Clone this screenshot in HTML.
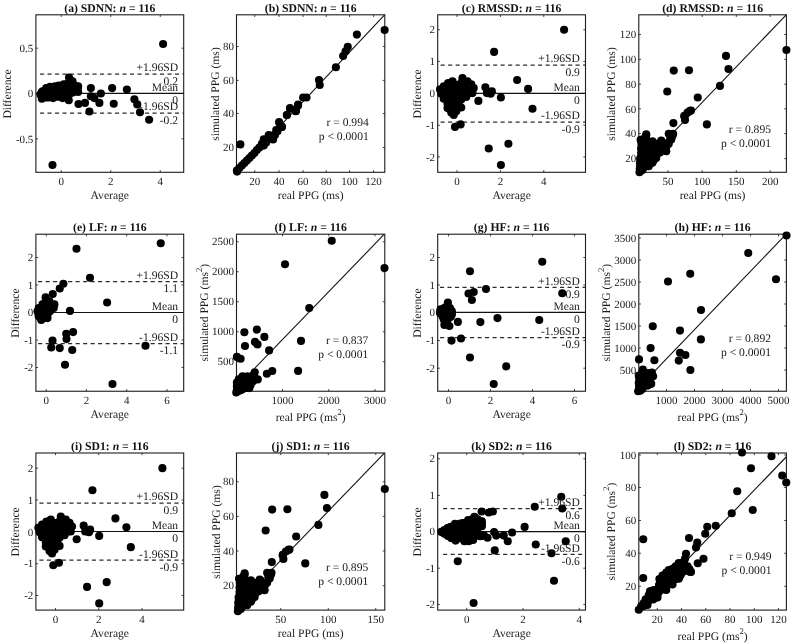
<!DOCTYPE html>
<html><head><meta charset="utf-8"><title>Figure</title>
<style>
html,body{margin:0;padding:0;background:#fff;}
body{width:792px;height:644px;overflow:hidden;}
svg{display:block;will-change:transform;text-rendering:geometricPrecision;font-family:"Liberation Serif",serif;}
</style></head><body>
<svg width="792" height="644" viewBox="0 0 792 644">
<rect width="792" height="644" fill="#fff"/>
<g id="p_a">
<path d="M61.25 172.3v-2.2 M61.25 14.8v2.2 M110.75 172.3v-2.2 M110.75 14.8v2.2 M160.25 172.3v-2.2 M160.25 14.8v2.2 M35.9 48.2h2.2 M183.7 48.2h-2.2 M35.9 93.5h2.2 M183.7 93.5h-2.2 M35.9 138.8h2.2 M183.7 138.8h-2.2" stroke="#1c1c1c" stroke-width="0.8" fill="none"/>
<path d="M35.9 93.4H183.7" stroke="#111" stroke-width="1.1"/>
<path d="M40 74H183.7 M40 113H183.7" stroke="#2c2c2c" stroke-width="1.25" stroke-dasharray="4.1 3.4" fill="none"/>
<rect x="35.9" y="14.8" width="147.8" height="157.5" fill="none" stroke="#1c1c1c" stroke-width="1.1"/>
<g fill="#000"><circle cx="69" cy="77.5" r="4.05"/><circle cx="72.5" cy="81.25" r="4.05"/><circle cx="78.12" cy="86.25" r="4.05"/><circle cx="78.12" cy="91.88" r="4.05"/><circle cx="90.88" cy="88.12" r="4.05"/><circle cx="112.12" cy="88.12" r="4.05"/><circle cx="126.88" cy="89.62" r="4.05"/><circle cx="100.88" cy="93.5" r="4.05"/><circle cx="90.88" cy="96.25" r="4.05"/><circle cx="94.38" cy="98.12" r="4.05"/><circle cx="99.38" cy="102.88" r="4.05"/><circle cx="113.75" cy="103.75" r="4.05"/><circle cx="78.5" cy="104" r="4.05"/><circle cx="85" cy="102.88" r="4.05"/><circle cx="89.38" cy="111.5" r="4.05"/><circle cx="68.75" cy="100.25" r="4.05"/><circle cx="42.5" cy="91.25" r="4.05"/><circle cx="42.5" cy="97.5" r="4.05"/><circle cx="46.25" cy="88.12" r="4.05"/><circle cx="46.25" cy="97.5" r="4.05"/><circle cx="50" cy="86.88" r="4.05"/><circle cx="53.12" cy="98.12" r="4.05"/><circle cx="55" cy="86.25" r="4.05"/><circle cx="58.75" cy="85.62" r="4.05"/><circle cx="62.5" cy="98.12" r="4.05"/><circle cx="63.75" cy="84.38" r="4.05"/><circle cx="67.5" cy="83.75" r="4.05"/><circle cx="66.25" cy="96.25" r="4.05"/><circle cx="71.25" cy="88.75" r="4.05"/><circle cx="43.75" cy="93.75" r="4.05"/><circle cx="48.75" cy="92.5" r="4.05"/><circle cx="53.75" cy="91.88" r="4.05"/><circle cx="58.75" cy="91.25" r="4.05"/><circle cx="63.75" cy="90" r="4.05"/><circle cx="68.75" cy="91.25" r="4.05"/><circle cx="58.75" cy="96.25" r="4.05"/><circle cx="48.75" cy="97.5" r="4.05"/><circle cx="73.12" cy="86.88" r="4.05"/><circle cx="41.88" cy="98.75" r="4.05"/><circle cx="163.1" cy="44" r="4.05"/><circle cx="134.4" cy="99.2" r="4.05"/><circle cx="137.25" cy="104.4" r="4.05"/><circle cx="140" cy="112.25" r="4.05"/><circle cx="149.1" cy="119.75" r="4.05"/><circle cx="52.5" cy="165" r="4.05"/><circle cx="70.42" cy="79.99" r="4.05"/><circle cx="69.22" cy="82.06" r="4.05"/><circle cx="71.62" cy="82.06" r="4.05"/><circle cx="70.42" cy="84.14" r="4.05"/><circle cx="72.83" cy="84.14" r="4.05"/><circle cx="64.42" cy="86.22" r="4.05"/><circle cx="66.82" cy="86.22" r="4.05"/><circle cx="69.22" cy="86.22" r="4.05"/><circle cx="71.62" cy="86.22" r="4.05"/><circle cx="74.03" cy="86.22" r="4.05"/><circle cx="76.43" cy="86.22" r="4.05"/><circle cx="51.22" cy="88.3" r="4.05"/><circle cx="53.62" cy="88.3" r="4.05"/><circle cx="56.02" cy="88.3" r="4.05"/><circle cx="58.42" cy="88.3" r="4.05"/><circle cx="60.82" cy="88.3" r="4.05"/><circle cx="63.22" cy="88.3" r="4.05"/><circle cx="65.62" cy="88.3" r="4.05"/><circle cx="68.02" cy="88.3" r="4.05"/><circle cx="70.42" cy="88.3" r="4.05"/><circle cx="72.83" cy="88.3" r="4.05"/><circle cx="75.23" cy="88.3" r="4.05"/><circle cx="77.63" cy="88.3" r="4.05"/><circle cx="45.22" cy="90.38" r="4.05"/><circle cx="47.62" cy="90.38" r="4.05"/><circle cx="50.02" cy="90.38" r="4.05"/><circle cx="52.42" cy="90.38" r="4.05"/><circle cx="54.82" cy="90.38" r="4.05"/><circle cx="57.22" cy="90.38" r="4.05"/><circle cx="59.62" cy="90.38" r="4.05"/><circle cx="62.02" cy="90.38" r="4.05"/><circle cx="64.42" cy="90.38" r="4.05"/><circle cx="66.82" cy="90.38" r="4.05"/><circle cx="69.22" cy="90.38" r="4.05"/><circle cx="71.62" cy="90.38" r="4.05"/><circle cx="74.03" cy="90.38" r="4.05"/><circle cx="76.43" cy="90.38" r="4.05"/><circle cx="41.62" cy="92.46" r="4.05"/><circle cx="44.02" cy="92.46" r="4.05"/><circle cx="46.42" cy="92.46" r="4.05"/><circle cx="48.82" cy="92.46" r="4.05"/><circle cx="51.22" cy="92.46" r="4.05"/><circle cx="53.62" cy="92.46" r="4.05"/><circle cx="56.02" cy="92.46" r="4.05"/><circle cx="58.42" cy="92.46" r="4.05"/><circle cx="60.82" cy="92.46" r="4.05"/><circle cx="63.22" cy="92.46" r="4.05"/><circle cx="65.62" cy="92.46" r="4.05"/><circle cx="68.02" cy="92.46" r="4.05"/><circle cx="70.42" cy="92.46" r="4.05"/><circle cx="72.83" cy="92.46" r="4.05"/><circle cx="40.42" cy="94.53" r="4.05"/><circle cx="42.82" cy="94.53" r="4.05"/><circle cx="45.22" cy="94.53" r="4.05"/><circle cx="47.62" cy="94.53" r="4.05"/><circle cx="50.02" cy="94.53" r="4.05"/><circle cx="52.42" cy="94.53" r="4.05"/><circle cx="54.82" cy="94.53" r="4.05"/><circle cx="57.22" cy="94.53" r="4.05"/><circle cx="59.62" cy="94.53" r="4.05"/><circle cx="62.02" cy="94.53" r="4.05"/><circle cx="64.42" cy="94.53" r="4.05"/><circle cx="66.82" cy="94.53" r="4.05"/><circle cx="69.22" cy="94.53" r="4.05"/><circle cx="41.62" cy="96.61" r="4.05"/><circle cx="44.02" cy="96.61" r="4.05"/><circle cx="56.02" cy="96.61" r="4.05"/><circle cx="58.42" cy="96.61" r="4.05"/><circle cx="60.82" cy="96.61" r="4.05"/><circle cx="63.22" cy="96.61" r="4.05"/><circle cx="65.62" cy="96.61" r="4.05"/><circle cx="68.02" cy="96.61" r="4.05"/></g>
<text transform="translate(178.1,71.4)" font-size="11.6" text-anchor="end" fill="#1a1a1a">+1.96SD</text>
<text transform="translate(178.1,84.6)" font-size="11.6" text-anchor="end" fill="#1a1a1a">0.2</text>
<text transform="translate(178.1,90.7)" font-size="11.6" text-anchor="end" fill="#1a1a1a">Mean</text>
<text transform="translate(178.1,103.6)" font-size="11.6" text-anchor="end" fill="#1a1a1a">0</text>
<text transform="translate(178.1,110.4)" font-size="11.6" text-anchor="end" fill="#1a1a1a">-1.96SD</text>
<text transform="translate(178.1,123.5)" font-size="11.6" text-anchor="end" fill="#1a1a1a">-0.2</text>
<text transform="translate(61.25,185.2)" font-size="11" text-anchor="middle" fill="#1a1a1a">0</text>
<text transform="translate(110.75,185.2)" font-size="11" text-anchor="middle" fill="#1a1a1a">2</text>
<text transform="translate(160.25,185.2)" font-size="11" text-anchor="middle" fill="#1a1a1a">4</text>
<text transform="translate(33.3,51.9)" font-size="11" text-anchor="end" fill="#1a1a1a">0.5</text>
<text transform="translate(33.3,97.2)" font-size="11" text-anchor="end" fill="#1a1a1a">0</text>
<text transform="translate(33.3,142.5)" font-size="11" text-anchor="end" fill="#1a1a1a">-0.5</text>
<text transform="translate(109.8,198.7)" font-size="11.6" text-anchor="middle" fill="#1a1a1a">Average</text>
<text transform="translate(11.1,93.95) rotate(-90)" font-size="11.6" text-anchor="middle" fill="#1a1a1a">Difference</text>
<text transform="translate(109.8,11.5) scale(1,1)" font-size="11.7" font-weight="bold" text-anchor="middle" fill="#111">(a) SDNN: <tspan font-style="italic">n</tspan> = 116</text>
</g>
<g id="p_b">
<path d="M254.75 172.3v-2.2 M254.75 14.8v2.2 M279 172.3v-2.2 M279 14.8v2.2 M303.1 172.3v-2.2 M303.1 14.8v2.2 M326.25 172.3v-2.2 M326.25 14.8v2.2 M349.6 172.3v-2.2 M349.6 14.8v2.2 M373.6 172.3v-2.2 M373.6 14.8v2.2 M236.5 147.5h2.2 M384.8 147.5h-2.2 M236.5 113.5h2.2 M384.8 113.5h-2.2 M236.5 80.4h2.2 M384.8 80.4h-2.2 M236.5 46.5h2.2 M384.8 46.5h-2.2" stroke="#1c1c1c" stroke-width="0.8" fill="none"/>
<path d="M236.5 172.3L384.6 14.9" stroke="#111" stroke-width="1.1"/>
<rect x="236.5" y="14.8" width="148.3" height="157.5" fill="none" stroke="#1c1c1c" stroke-width="1.1"/>
<g fill="#000"><circle cx="236.88" cy="170.62" r="4.05"/><circle cx="239.38" cy="168.12" r="4.05"/><circle cx="241.88" cy="165.62" r="4.05"/><circle cx="244.38" cy="163.12" r="4.05"/><circle cx="246.88" cy="160.62" r="4.05"/><circle cx="249.38" cy="158.12" r="4.05"/><circle cx="251.88" cy="155.62" r="4.05"/><circle cx="254.38" cy="153.12" r="4.05"/><circle cx="256.88" cy="150" r="4.05"/><circle cx="259.38" cy="147.5" r="4.05"/><circle cx="261.88" cy="143.75" r="4.05"/><circle cx="263.75" cy="145.62" r="4.05"/><circle cx="266.25" cy="142.5" r="4.05"/><circle cx="268.75" cy="136.25" r="4.05"/><circle cx="271.25" cy="138.75" r="4.05"/><circle cx="273.12" cy="139.38" r="4.05"/><circle cx="275" cy="135" r="4.05"/><circle cx="277.5" cy="131.25" r="4.05"/><circle cx="279.38" cy="123.12" r="4.05"/><circle cx="281.88" cy="126.88" r="4.05"/><circle cx="286.88" cy="115" r="4.05"/><circle cx="290" cy="108.75" r="4.05"/><circle cx="295.62" cy="111.25" r="4.05"/><circle cx="298.12" cy="105.62" r="4.05"/><circle cx="240.38" cy="144.38" r="4.05"/><circle cx="384.62" cy="30" r="4.05"/><circle cx="356.88" cy="34.62" r="4.05"/><circle cx="347.75" cy="46.88" r="4.05"/><circle cx="345.62" cy="51.25" r="4.05"/><circle cx="343.12" cy="56" r="4.05"/><circle cx="335.88" cy="67.25" r="4.05"/><circle cx="319" cy="80" r="4.05"/><circle cx="319.75" cy="85" r="4.05"/><circle cx="303.12" cy="97.5" r="4.05"/><circle cx="306.5" cy="97.5" r="4.05"/><circle cx="298.12" cy="104.62" r="4.05"/><circle cx="290" cy="108.12" r="4.05"/><circle cx="296" cy="110.88" r="4.05"/><circle cx="286.88" cy="115" r="4.05"/><circle cx="279.12" cy="122.12" r="4.05"/><circle cx="281.88" cy="126.88" r="4.05"/><circle cx="276.25" cy="130" r="4.05"/><circle cx="268.75" cy="135" r="4.05"/><circle cx="273.75" cy="135" r="4.05"/><circle cx="263.75" cy="139.38" r="4.05"/><circle cx="237.1" cy="171.6" r="4.05"/></g>
<text transform="translate(368.75,126.45)" font-size="11.6" text-anchor="end" fill="#1a1a1a">r = 0.994</text>
<text transform="translate(368.75,140.2)" font-size="11.6" text-anchor="end" fill="#1a1a1a">p &lt; 0.0001</text>
<text transform="translate(254.75,185.2)" font-size="11" text-anchor="middle" fill="#1a1a1a">20</text>
<text transform="translate(279,185.2)" font-size="11" text-anchor="middle" fill="#1a1a1a">40</text>
<text transform="translate(303.1,185.2)" font-size="11" text-anchor="middle" fill="#1a1a1a">60</text>
<text transform="translate(326.25,185.2)" font-size="11" text-anchor="middle" fill="#1a1a1a">80</text>
<text transform="translate(349.6,185.2)" font-size="11" text-anchor="middle" fill="#1a1a1a">100</text>
<text transform="translate(373.6,185.2)" font-size="11" text-anchor="middle" fill="#1a1a1a">120</text>
<text transform="translate(233.9,151.2)" font-size="11" text-anchor="end" fill="#1a1a1a">20</text>
<text transform="translate(233.9,117.2)" font-size="11" text-anchor="end" fill="#1a1a1a">40</text>
<text transform="translate(233.9,84.1)" font-size="11" text-anchor="end" fill="#1a1a1a">60</text>
<text transform="translate(233.9,50.2)" font-size="11" text-anchor="end" fill="#1a1a1a">80</text>
<text transform="translate(310.65,198.7)" font-size="11.6" text-anchor="middle" fill="#1a1a1a">real PPG (ms)</text>
<text transform="translate(219.1,93.95) rotate(-90)" font-size="11.6" text-anchor="middle" fill="#1a1a1a">simulated PPG (ms)</text>
<text transform="translate(310.65,11.5) scale(1,1)" font-size="11.7" font-weight="bold" text-anchor="middle" fill="#111">(b) SDNN: <tspan font-style="italic">n</tspan> = 116</text>
</g>
<g id="p_c">
<path d="M457 172.3v-2.2 M457 14.8v2.2 M500.4 172.3v-2.2 M500.4 14.8v2.2 M543.75 172.3v-2.2 M543.75 14.8v2.2 M437.7 29.75h2.2 M585.5 29.75h-2.2 M437.7 61.4h2.2 M585.5 61.4h-2.2 M437.7 93.4h2.2 M585.5 93.4h-2.2 M437.7 125.25h2.2 M585.5 125.25h-2.2 M437.7 156.9h2.2 M585.5 156.9h-2.2" stroke="#1c1c1c" stroke-width="0.8" fill="none"/>
<path d="M437.7 93.4H585.5" stroke="#111" stroke-width="1.1"/>
<path d="M440.6 65H585.5 M440.6 122H585.5" stroke="#2c2c2c" stroke-width="1.25" stroke-dasharray="4.1 3.4" fill="none"/>
<rect x="437.7" y="14.8" width="147.8" height="157.5" fill="none" stroke="#1c1c1c" stroke-width="1.1"/>
<g fill="#000"><circle cx="494.12" cy="51.88" r="4.05"/><circle cx="517.12" cy="80" r="4.05"/><circle cx="485.38" cy="87.25" r="4.05"/><circle cx="491.88" cy="91.25" r="4.05"/><circle cx="486.88" cy="93.12" r="4.05"/><circle cx="490.62" cy="93.75" r="4.05"/><circle cx="500.88" cy="97.5" r="4.05"/><circle cx="478.38" cy="100.88" r="4.05"/><circle cx="460.62" cy="124.38" r="4.05"/><circle cx="455" cy="126.88" r="4.05"/><circle cx="462.5" cy="78.12" r="4.05"/><circle cx="452.5" cy="81.25" r="4.05"/><circle cx="467.5" cy="81.25" r="4.05"/><circle cx="448.12" cy="83.12" r="4.05"/><circle cx="443.75" cy="86.25" r="4.05"/><circle cx="471.25" cy="84.38" r="4.05"/><circle cx="440" cy="89.38" r="4.05"/><circle cx="473.75" cy="88.12" r="4.05"/><circle cx="457.5" cy="85" r="4.05"/><circle cx="462.5" cy="87.5" r="4.05"/><circle cx="452.5" cy="90" r="4.05"/><circle cx="445" cy="92.5" r="4.05"/><circle cx="467.5" cy="91.25" r="4.05"/><circle cx="472.5" cy="93.12" r="4.05"/><circle cx="441.25" cy="93.75" r="4.05"/><circle cx="443.75" cy="98.75" r="4.05"/><circle cx="466.25" cy="96.88" r="4.05"/><circle cx="461.25" cy="99.38" r="4.05"/><circle cx="450" cy="97.5" r="4.05"/><circle cx="456.25" cy="95" r="4.05"/><circle cx="447.5" cy="103.75" r="4.05"/><circle cx="455" cy="103.75" r="4.05"/><circle cx="447.5" cy="108.12" r="4.05"/><circle cx="461.25" cy="107.5" r="4.05"/><circle cx="451.25" cy="112.5" r="4.05"/><circle cx="456.25" cy="111.25" r="4.05"/><circle cx="453.75" cy="115" r="4.05"/><circle cx="458.75" cy="102.5" r="4.05"/><circle cx="564.1" cy="29.75" r="4.05"/><circle cx="528.1" cy="88.9" r="4.05"/><circle cx="532.5" cy="108.75" r="4.05"/><circle cx="488.75" cy="148.5" r="4.05"/><circle cx="508.4" cy="143.75" r="4.05"/><circle cx="500.9" cy="165" r="4.05"/><circle cx="462.7" cy="80.61" r="4.05"/><circle cx="451.9" cy="82.69" r="4.05"/><circle cx="461.5" cy="82.69" r="4.05"/><circle cx="463.9" cy="82.69" r="4.05"/><circle cx="466.3" cy="82.69" r="4.05"/><circle cx="448.3" cy="84.77" r="4.05"/><circle cx="450.7" cy="84.77" r="4.05"/><circle cx="453.1" cy="84.77" r="4.05"/><circle cx="455.5" cy="84.77" r="4.05"/><circle cx="457.9" cy="84.77" r="4.05"/><circle cx="460.3" cy="84.77" r="4.05"/><circle cx="462.7" cy="84.77" r="4.05"/><circle cx="465.1" cy="84.77" r="4.05"/><circle cx="467.5" cy="84.77" r="4.05"/><circle cx="447.1" cy="86.85" r="4.05"/><circle cx="449.5" cy="86.85" r="4.05"/><circle cx="451.9" cy="86.85" r="4.05"/><circle cx="454.3" cy="86.85" r="4.05"/><circle cx="456.7" cy="86.85" r="4.05"/><circle cx="459.1" cy="86.85" r="4.05"/><circle cx="461.5" cy="86.85" r="4.05"/><circle cx="463.9" cy="86.85" r="4.05"/><circle cx="466.3" cy="86.85" r="4.05"/><circle cx="468.7" cy="86.85" r="4.05"/><circle cx="471.1" cy="86.85" r="4.05"/><circle cx="443.5" cy="88.92" r="4.05"/><circle cx="445.9" cy="88.92" r="4.05"/><circle cx="448.3" cy="88.92" r="4.05"/><circle cx="450.7" cy="88.92" r="4.05"/><circle cx="453.1" cy="88.92" r="4.05"/><circle cx="455.5" cy="88.92" r="4.05"/><circle cx="457.9" cy="88.92" r="4.05"/><circle cx="460.3" cy="88.92" r="4.05"/><circle cx="462.7" cy="88.92" r="4.05"/><circle cx="465.1" cy="88.92" r="4.05"/><circle cx="467.5" cy="88.92" r="4.05"/><circle cx="469.9" cy="88.92" r="4.05"/><circle cx="472.3" cy="88.92" r="4.05"/><circle cx="442.3" cy="91" r="4.05"/><circle cx="444.7" cy="91" r="4.05"/><circle cx="447.1" cy="91" r="4.05"/><circle cx="449.5" cy="91" r="4.05"/><circle cx="451.9" cy="91" r="4.05"/><circle cx="454.3" cy="91" r="4.05"/><circle cx="456.7" cy="91" r="4.05"/><circle cx="459.1" cy="91" r="4.05"/><circle cx="461.5" cy="91" r="4.05"/><circle cx="463.9" cy="91" r="4.05"/><circle cx="466.3" cy="91" r="4.05"/><circle cx="468.7" cy="91" r="4.05"/><circle cx="471.1" cy="91" r="4.05"/><circle cx="443.5" cy="93.08" r="4.05"/><circle cx="445.9" cy="93.08" r="4.05"/><circle cx="448.3" cy="93.08" r="4.05"/><circle cx="450.7" cy="93.08" r="4.05"/><circle cx="453.1" cy="93.08" r="4.05"/><circle cx="455.5" cy="93.08" r="4.05"/><circle cx="457.9" cy="93.08" r="4.05"/><circle cx="460.3" cy="93.08" r="4.05"/><circle cx="462.7" cy="93.08" r="4.05"/><circle cx="465.1" cy="93.08" r="4.05"/><circle cx="467.5" cy="93.08" r="4.05"/><circle cx="469.9" cy="93.08" r="4.05"/><circle cx="444.7" cy="95.16" r="4.05"/><circle cx="447.1" cy="95.16" r="4.05"/><circle cx="449.5" cy="95.16" r="4.05"/><circle cx="451.9" cy="95.16" r="4.05"/><circle cx="454.3" cy="95.16" r="4.05"/><circle cx="456.7" cy="95.16" r="4.05"/><circle cx="459.1" cy="95.16" r="4.05"/><circle cx="461.5" cy="95.16" r="4.05"/><circle cx="463.9" cy="95.16" r="4.05"/><circle cx="466.3" cy="95.16" r="4.05"/><circle cx="445.9" cy="97.24" r="4.05"/><circle cx="448.3" cy="97.24" r="4.05"/><circle cx="450.7" cy="97.24" r="4.05"/><circle cx="453.1" cy="97.24" r="4.05"/><circle cx="455.5" cy="97.24" r="4.05"/><circle cx="457.9" cy="97.24" r="4.05"/><circle cx="460.3" cy="97.24" r="4.05"/><circle cx="447.1" cy="99.32" r="4.05"/><circle cx="449.5" cy="99.32" r="4.05"/><circle cx="451.9" cy="99.32" r="4.05"/><circle cx="454.3" cy="99.32" r="4.05"/><circle cx="456.7" cy="99.32" r="4.05"/><circle cx="459.1" cy="99.32" r="4.05"/><circle cx="450.7" cy="101.39" r="4.05"/><circle cx="453.1" cy="101.39" r="4.05"/><circle cx="455.5" cy="101.39" r="4.05"/><circle cx="457.9" cy="101.39" r="4.05"/><circle cx="451.9" cy="103.47" r="4.05"/><circle cx="454.3" cy="103.47" r="4.05"/><circle cx="456.7" cy="103.47" r="4.05"/><circle cx="450.7" cy="105.55" r="4.05"/><circle cx="453.1" cy="105.55" r="4.05"/><circle cx="455.5" cy="105.55" r="4.05"/><circle cx="457.9" cy="105.55" r="4.05"/><circle cx="449.5" cy="107.63" r="4.05"/><circle cx="451.9" cy="107.63" r="4.05"/><circle cx="454.3" cy="107.63" r="4.05"/><circle cx="456.7" cy="107.63" r="4.05"/><circle cx="450.7" cy="109.71" r="4.05"/><circle cx="453.1" cy="109.71" r="4.05"/><circle cx="455.5" cy="109.71" r="4.05"/><circle cx="454.3" cy="111.79" r="4.05"/></g>
<text transform="translate(579.9,62.4)" font-size="11.6" text-anchor="end" fill="#1a1a1a">+1.96SD</text>
<text transform="translate(579.9,75.6)" font-size="11.6" text-anchor="end" fill="#1a1a1a">0.9</text>
<text transform="translate(579.9,90.7)" font-size="11.6" text-anchor="end" fill="#1a1a1a">Mean</text>
<text transform="translate(579.9,103.6)" font-size="11.6" text-anchor="end" fill="#1a1a1a">0</text>
<text transform="translate(579.9,119.4)" font-size="11.6" text-anchor="end" fill="#1a1a1a">-1.96SD</text>
<text transform="translate(579.9,132.5)" font-size="11.6" text-anchor="end" fill="#1a1a1a">-0.9</text>
<text transform="translate(457,185.2)" font-size="11" text-anchor="middle" fill="#1a1a1a">0</text>
<text transform="translate(500.4,185.2)" font-size="11" text-anchor="middle" fill="#1a1a1a">2</text>
<text transform="translate(543.75,185.2)" font-size="11" text-anchor="middle" fill="#1a1a1a">4</text>
<text transform="translate(435.1,33.45)" font-size="11" text-anchor="end" fill="#1a1a1a">2</text>
<text transform="translate(435.1,65.1)" font-size="11" text-anchor="end" fill="#1a1a1a">1</text>
<text transform="translate(435.1,97.1)" font-size="11" text-anchor="end" fill="#1a1a1a">0</text>
<text transform="translate(435.1,128.95)" font-size="11" text-anchor="end" fill="#1a1a1a">-1</text>
<text transform="translate(435.1,160.6)" font-size="11" text-anchor="end" fill="#1a1a1a">-2</text>
<text transform="translate(511.6,198.7)" font-size="11.6" text-anchor="middle" fill="#1a1a1a">Average</text>
<text transform="translate(420.6,93.95) rotate(-90)" font-size="11.6" text-anchor="middle" fill="#1a1a1a">Difference</text>
<text transform="translate(511.6,11.5) scale(1,1)" font-size="11.7" font-weight="bold" text-anchor="middle" fill="#111">(c) RMSSD: <tspan font-style="italic">n</tspan> = 116</text>
</g>
<g id="p_d">
<path d="M667.9 172.3v-2.2 M667.9 14.8v2.2 M702.2 172.3v-2.2 M702.2 14.8v2.2 M736.3 172.3v-2.2 M736.3 14.8v2.2 M770.2 172.3v-2.2 M770.2 14.8v2.2 M638.8 158.6h2.2 M786.4 158.6h-2.2 M638.8 133.6h2.2 M786.4 133.6h-2.2 M638.8 108.8h2.2 M786.4 108.8h-2.2 M638.8 84.2h2.2 M786.4 84.2h-2.2 M638.8 59.4h2.2 M786.4 59.4h-2.2 M638.8 34.5h2.2 M786.4 34.5h-2.2" stroke="#1c1c1c" stroke-width="0.8" fill="none"/>
<path d="M638.8 168.4L786.2 14.9" stroke="#111" stroke-width="1.1"/>
<rect x="638.8" y="14.8" width="147.6" height="157.5" fill="none" stroke="#1c1c1c" stroke-width="1.1"/>
<g fill="#000"><circle cx="691" cy="110.62" r="4.05"/><circle cx="687.5" cy="112.5" r="4.05"/><circle cx="684.38" cy="116.25" r="4.05"/><circle cx="685" cy="120" r="4.05"/><circle cx="673.38" cy="123.12" r="4.05"/><circle cx="706.88" cy="124.38" r="4.05"/><circle cx="668.75" cy="133.75" r="4.05"/><circle cx="673.12" cy="133.75" r="4.05"/><circle cx="646.25" cy="134.38" r="4.05"/><circle cx="640.62" cy="139.75" r="4.05"/><circle cx="671.25" cy="139.38" r="4.05"/><circle cx="652.5" cy="141.25" r="4.05"/><circle cx="661.25" cy="140.62" r="4.05"/><circle cx="668.75" cy="143.75" r="4.05"/><circle cx="665" cy="146.88" r="4.05"/><circle cx="666.25" cy="151.25" r="4.05"/><circle cx="660" cy="152.5" r="4.05"/><circle cx="658.75" cy="145" r="4.05"/><circle cx="651.25" cy="146.25" r="4.05"/><circle cx="645" cy="145" r="4.05"/><circle cx="641.25" cy="148.75" r="4.05"/><circle cx="646.25" cy="151.25" r="4.05"/><circle cx="653.75" cy="153.75" r="4.05"/><circle cx="641.25" cy="153.75" r="4.05"/><circle cx="647.5" cy="156.25" r="4.05"/><circle cx="656.25" cy="158.12" r="4.05"/><circle cx="640.75" cy="158.75" r="4.05"/><circle cx="645" cy="161.25" r="4.05"/><circle cx="652.5" cy="162.5" r="4.05"/><circle cx="640" cy="163.75" r="4.05"/><circle cx="642.5" cy="166.25" r="4.05"/><circle cx="648.75" cy="166.25" r="4.05"/><circle cx="639.75" cy="168.75" r="4.05"/><circle cx="642.5" cy="170" r="4.05"/><circle cx="639.5" cy="172.25" r="4.05"/><circle cx="660" cy="148.75" r="4.05"/><circle cx="650" cy="158.75" r="4.05"/><circle cx="726" cy="55.88" r="4.05"/><circle cx="728.5" cy="69" r="4.05"/><circle cx="720" cy="85.88" r="4.05"/><circle cx="673.75" cy="70.62" r="4.05"/><circle cx="689" cy="70.25" r="4.05"/><circle cx="667.25" cy="91.5" r="4.05"/><circle cx="697.75" cy="97.5" r="4.05"/><circle cx="690" cy="110.88" r="4.05"/><circle cx="684.38" cy="115.88" r="4.05"/><circle cx="786.4" cy="50" r="4.05"/><circle cx="646.17" cy="135.61" r="4.05"/><circle cx="670.17" cy="135.61" r="4.05"/><circle cx="672.57" cy="135.61" r="4.05"/><circle cx="644.97" cy="137.69" r="4.05"/><circle cx="671.37" cy="137.69" r="4.05"/><circle cx="641.38" cy="139.77" r="4.05"/><circle cx="643.77" cy="139.77" r="4.05"/><circle cx="646.17" cy="139.77" r="4.05"/><circle cx="670.17" cy="139.77" r="4.05"/><circle cx="642.57" cy="141.85" r="4.05"/><circle cx="644.97" cy="141.85" r="4.05"/><circle cx="647.37" cy="141.85" r="4.05"/><circle cx="661.77" cy="141.85" r="4.05"/><circle cx="641.38" cy="143.92" r="4.05"/><circle cx="643.77" cy="143.92" r="4.05"/><circle cx="646.17" cy="143.92" r="4.05"/><circle cx="648.57" cy="143.92" r="4.05"/><circle cx="650.97" cy="143.92" r="4.05"/><circle cx="653.37" cy="143.92" r="4.05"/><circle cx="655.77" cy="143.92" r="4.05"/><circle cx="658.17" cy="143.92" r="4.05"/><circle cx="660.57" cy="143.92" r="4.05"/><circle cx="662.97" cy="143.92" r="4.05"/><circle cx="665.37" cy="143.92" r="4.05"/><circle cx="667.77" cy="143.92" r="4.05"/><circle cx="642.57" cy="146" r="4.05"/><circle cx="644.97" cy="146" r="4.05"/><circle cx="647.37" cy="146" r="4.05"/><circle cx="649.77" cy="146" r="4.05"/><circle cx="652.17" cy="146" r="4.05"/><circle cx="654.57" cy="146" r="4.05"/><circle cx="656.97" cy="146" r="4.05"/><circle cx="659.37" cy="146" r="4.05"/><circle cx="661.77" cy="146" r="4.05"/><circle cx="664.17" cy="146" r="4.05"/><circle cx="666.57" cy="146" r="4.05"/><circle cx="641.38" cy="148.08" r="4.05"/><circle cx="643.77" cy="148.08" r="4.05"/><circle cx="646.17" cy="148.08" r="4.05"/><circle cx="648.57" cy="148.08" r="4.05"/><circle cx="650.97" cy="148.08" r="4.05"/><circle cx="653.37" cy="148.08" r="4.05"/><circle cx="655.77" cy="148.08" r="4.05"/><circle cx="658.17" cy="148.08" r="4.05"/><circle cx="660.57" cy="148.08" r="4.05"/><circle cx="662.97" cy="148.08" r="4.05"/><circle cx="665.37" cy="148.08" r="4.05"/><circle cx="642.57" cy="150.16" r="4.05"/><circle cx="644.97" cy="150.16" r="4.05"/><circle cx="647.37" cy="150.16" r="4.05"/><circle cx="649.77" cy="150.16" r="4.05"/><circle cx="652.17" cy="150.16" r="4.05"/><circle cx="654.57" cy="150.16" r="4.05"/><circle cx="656.97" cy="150.16" r="4.05"/><circle cx="659.37" cy="150.16" r="4.05"/><circle cx="661.77" cy="150.16" r="4.05"/><circle cx="664.17" cy="150.16" r="4.05"/><circle cx="641.38" cy="152.24" r="4.05"/><circle cx="643.77" cy="152.24" r="4.05"/><circle cx="646.17" cy="152.24" r="4.05"/><circle cx="648.57" cy="152.24" r="4.05"/><circle cx="650.97" cy="152.24" r="4.05"/><circle cx="653.37" cy="152.24" r="4.05"/><circle cx="655.77" cy="152.24" r="4.05"/><circle cx="658.17" cy="152.24" r="4.05"/><circle cx="642.57" cy="154.32" r="4.05"/><circle cx="644.97" cy="154.32" r="4.05"/><circle cx="647.37" cy="154.32" r="4.05"/><circle cx="649.77" cy="154.32" r="4.05"/><circle cx="652.17" cy="154.32" r="4.05"/><circle cx="654.57" cy="154.32" r="4.05"/><circle cx="656.97" cy="154.32" r="4.05"/><circle cx="641.38" cy="156.39" r="4.05"/><circle cx="643.77" cy="156.39" r="4.05"/><circle cx="646.17" cy="156.39" r="4.05"/><circle cx="648.57" cy="156.39" r="4.05"/><circle cx="650.97" cy="156.39" r="4.05"/><circle cx="653.37" cy="156.39" r="4.05"/><circle cx="655.77" cy="156.39" r="4.05"/><circle cx="640.17" cy="158.47" r="4.05"/><circle cx="642.57" cy="158.47" r="4.05"/><circle cx="644.97" cy="158.47" r="4.05"/><circle cx="647.37" cy="158.47" r="4.05"/><circle cx="649.77" cy="158.47" r="4.05"/><circle cx="652.17" cy="158.47" r="4.05"/><circle cx="654.57" cy="158.47" r="4.05"/><circle cx="641.38" cy="160.55" r="4.05"/><circle cx="643.77" cy="160.55" r="4.05"/><circle cx="646.17" cy="160.55" r="4.05"/><circle cx="648.57" cy="160.55" r="4.05"/><circle cx="650.97" cy="160.55" r="4.05"/><circle cx="653.37" cy="160.55" r="4.05"/><circle cx="640.17" cy="162.63" r="4.05"/><circle cx="642.57" cy="162.63" r="4.05"/><circle cx="644.97" cy="162.63" r="4.05"/><circle cx="647.37" cy="162.63" r="4.05"/><circle cx="649.77" cy="162.63" r="4.05"/><circle cx="652.17" cy="162.63" r="4.05"/><circle cx="641.38" cy="164.71" r="4.05"/><circle cx="643.77" cy="164.71" r="4.05"/><circle cx="646.17" cy="164.71" r="4.05"/><circle cx="648.57" cy="164.71" r="4.05"/><circle cx="640.17" cy="166.79" r="4.05"/><circle cx="642.57" cy="166.79" r="4.05"/><circle cx="644.97" cy="166.79" r="4.05"/><circle cx="641.38" cy="168.86" r="4.05"/><circle cx="640.17" cy="170.94" r="4.05"/></g>
<text transform="translate(771,133.2)" font-size="11.6" text-anchor="end" fill="#1a1a1a">r = 0.895</text>
<text transform="translate(771,146.95)" font-size="11.6" text-anchor="end" fill="#1a1a1a">p &lt; 0.0001</text>
<text transform="translate(667.9,185.2)" font-size="11" text-anchor="middle" fill="#1a1a1a">50</text>
<text transform="translate(702.2,185.2)" font-size="11" text-anchor="middle" fill="#1a1a1a">100</text>
<text transform="translate(736.3,185.2)" font-size="11" text-anchor="middle" fill="#1a1a1a">150</text>
<text transform="translate(770.2,185.2)" font-size="11" text-anchor="middle" fill="#1a1a1a">200</text>
<text transform="translate(636.2,162.3)" font-size="11" text-anchor="end" fill="#1a1a1a">20</text>
<text transform="translate(636.2,137.3)" font-size="11" text-anchor="end" fill="#1a1a1a">40</text>
<text transform="translate(636.2,112.5)" font-size="11" text-anchor="end" fill="#1a1a1a">60</text>
<text transform="translate(636.2,87.9)" font-size="11" text-anchor="end" fill="#1a1a1a">80</text>
<text transform="translate(636.2,63.1)" font-size="11" text-anchor="end" fill="#1a1a1a">100</text>
<text transform="translate(636.2,38.2)" font-size="11" text-anchor="end" fill="#1a1a1a">120</text>
<text transform="translate(712.6,198.7)" font-size="11.6" text-anchor="middle" fill="#1a1a1a">real PPG (ms)</text>
<text transform="translate(614.5,93.95) rotate(-90)" font-size="11.6" text-anchor="middle" fill="#1a1a1a">simulated PPG (ms)</text>
<text transform="translate(712.6,11.5) scale(1,1)" font-size="11.7" font-weight="bold" text-anchor="middle" fill="#111">(d) RMSSD: <tspan font-style="italic">n</tspan> = 116</text>
</g>
<g id="p_e">
<path d="M46.25 391.25v-2.2 M46.25 234.2v2.2 M86.4 391.25v-2.2 M86.4 234.2v2.2 M126.7 391.25v-2.2 M126.7 234.2v2.2 M167 391.25v-2.2 M167 234.2v2.2 M35.9 257.5h2.2 M183.7 257.5h-2.2 M35.9 285h2.2 M183.7 285h-2.2 M35.9 312.5h2.2 M183.7 312.5h-2.2 M35.9 340h2.2 M183.7 340h-2.2 M35.9 367.5h2.2 M183.7 367.5h-2.2" stroke="#1c1c1c" stroke-width="0.8" fill="none"/>
<path d="M35.9 312.5H183.7" stroke="#111" stroke-width="1.1"/>
<path d="M38.1 281.5H183.7 M38.1 343.5H183.7" stroke="#2c2c2c" stroke-width="1.25" stroke-dasharray="4.1 3.4" fill="none"/>
<rect x="35.9" y="234.2" width="147.8" height="157.05" fill="none" stroke="#1c1c1c" stroke-width="1.1"/>
<g fill="#000"><circle cx="90" cy="277.75" r="4.05"/><circle cx="63.38" cy="283.75" r="4.05"/><circle cx="59.75" cy="288.5" r="4.05"/><circle cx="52.75" cy="294.12" r="4.05"/><circle cx="45.62" cy="297.25" r="4.05"/><circle cx="107.12" cy="302.5" r="4.05"/><circle cx="70" cy="310.88" r="4.05"/><circle cx="54.38" cy="304.38" r="4.05"/><circle cx="53.75" cy="308.12" r="4.05"/><circle cx="49.38" cy="301.25" r="4.05"/><circle cx="42.5" cy="304.38" r="4.05"/><circle cx="47.5" cy="306.25" r="4.05"/><circle cx="38.75" cy="308.12" r="4.05"/><circle cx="43.75" cy="310" r="4.05"/><circle cx="50" cy="311.25" r="4.05"/><circle cx="37.5" cy="311.25" r="4.05"/><circle cx="41.25" cy="313.75" r="4.05"/><circle cx="47.5" cy="314.38" r="4.05"/><circle cx="38.75" cy="316.25" r="4.05"/><circle cx="43.75" cy="317.5" r="4.05"/><circle cx="47.5" cy="318.12" r="4.05"/><circle cx="41.25" cy="320" r="4.05"/><circle cx="73.12" cy="332.12" r="4.05"/><circle cx="66.25" cy="333.75" r="4.05"/><circle cx="66.5" cy="339.12" r="4.05"/><circle cx="52.5" cy="340.62" r="4.05"/><circle cx="51.25" cy="347.5" r="4.05"/><circle cx="59.75" cy="348.12" r="4.05"/><circle cx="72.25" cy="350" r="4.05"/><circle cx="160.75" cy="243.25" r="4.05"/><circle cx="76.5" cy="248.75" r="4.05"/><circle cx="145.5" cy="345.75" r="4.05"/><circle cx="65" cy="364.8" r="4.05"/><circle cx="112.5" cy="384" r="4.05"/><circle cx="45.75" cy="301.44" r="4.05"/><circle cx="44.55" cy="303.52" r="4.05"/><circle cx="46.95" cy="303.52" r="4.05"/><circle cx="49.35" cy="303.52" r="4.05"/><circle cx="43.35" cy="305.6" r="4.05"/><circle cx="45.75" cy="305.6" r="4.05"/><circle cx="48.15" cy="305.6" r="4.05"/><circle cx="50.55" cy="305.6" r="4.05"/><circle cx="52.95" cy="305.6" r="4.05"/><circle cx="42.15" cy="307.67" r="4.05"/><circle cx="44.55" cy="307.67" r="4.05"/><circle cx="46.95" cy="307.67" r="4.05"/><circle cx="49.35" cy="307.67" r="4.05"/><circle cx="51.75" cy="307.67" r="4.05"/><circle cx="40.95" cy="309.75" r="4.05"/><circle cx="43.35" cy="309.75" r="4.05"/><circle cx="45.75" cy="309.75" r="4.05"/><circle cx="48.15" cy="309.75" r="4.05"/><circle cx="50.55" cy="309.75" r="4.05"/><circle cx="39.75" cy="311.83" r="4.05"/><circle cx="42.15" cy="311.83" r="4.05"/><circle cx="44.55" cy="311.83" r="4.05"/><circle cx="46.95" cy="311.83" r="4.05"/><circle cx="38.55" cy="313.91" r="4.05"/><circle cx="40.95" cy="313.91" r="4.05"/><circle cx="43.35" cy="313.91" r="4.05"/><circle cx="45.75" cy="313.91" r="4.05"/><circle cx="39.75" cy="315.99" r="4.05"/><circle cx="42.15" cy="315.99" r="4.05"/><circle cx="44.55" cy="315.99" r="4.05"/><circle cx="40.95" cy="318.07" r="4.05"/><circle cx="43.35" cy="318.07" r="4.05"/><circle cx="45.75" cy="318.07" r="4.05"/></g>
<text transform="translate(178.1,278.9)" font-size="11.6" text-anchor="end" fill="#1a1a1a">+1.96SD</text>
<text transform="translate(178.1,292.1)" font-size="11.6" text-anchor="end" fill="#1a1a1a">1.1</text>
<text transform="translate(178.1,309.8)" font-size="11.6" text-anchor="end" fill="#1a1a1a">Mean</text>
<text transform="translate(178.1,322.7)" font-size="11.6" text-anchor="end" fill="#1a1a1a">0</text>
<text transform="translate(178.1,340.9)" font-size="11.6" text-anchor="end" fill="#1a1a1a">-1.96SD</text>
<text transform="translate(178.1,354)" font-size="11.6" text-anchor="end" fill="#1a1a1a">-1.1</text>
<text transform="translate(46.25,404.15)" font-size="11" text-anchor="middle" fill="#1a1a1a">0</text>
<text transform="translate(86.4,404.15)" font-size="11" text-anchor="middle" fill="#1a1a1a">2</text>
<text transform="translate(126.7,404.15)" font-size="11" text-anchor="middle" fill="#1a1a1a">4</text>
<text transform="translate(167,404.15)" font-size="11" text-anchor="middle" fill="#1a1a1a">6</text>
<text transform="translate(33.3,261.2)" font-size="11" text-anchor="end" fill="#1a1a1a">2</text>
<text transform="translate(33.3,288.7)" font-size="11" text-anchor="end" fill="#1a1a1a">1</text>
<text transform="translate(33.3,316.2)" font-size="11" text-anchor="end" fill="#1a1a1a">0</text>
<text transform="translate(33.3,343.7)" font-size="11" text-anchor="end" fill="#1a1a1a">-1</text>
<text transform="translate(33.3,371.2)" font-size="11" text-anchor="end" fill="#1a1a1a">-2</text>
<text transform="translate(109.8,417.65)" font-size="11.6" text-anchor="middle" fill="#1a1a1a">Average</text>
<text transform="translate(19.1,313.12) rotate(-90)" font-size="11.6" text-anchor="middle" fill="#1a1a1a">Difference</text>
<text transform="translate(109.8,230.9) scale(1,1)" font-size="11.7" font-weight="bold" text-anchor="middle" fill="#111">(e) LF: <tspan font-style="italic">n</tspan> = 116</text>
</g>
<g id="p_f">
<path d="M282.5 391.25v-2.2 M282.5 234.2v2.2 M328.75 391.25v-2.2 M328.75 234.2v2.2 M375 391.25v-2.2 M375 234.2v2.2 M236.5 361.75h2.2 M384.8 361.75h-2.2 M236.5 331.75h2.2 M384.8 331.75h-2.2 M236.5 301.75h2.2 M384.8 301.75h-2.2 M236.5 271.75h2.2 M384.8 271.75h-2.2 M236.5 241.75h2.2 M384.8 241.75h-2.2" stroke="#1c1c1c" stroke-width="0.8" fill="none"/>
<path d="M236.4 387.3L384.3 234.2" stroke="#111" stroke-width="1.1"/>
<rect x="236.5" y="234.2" width="148.3" height="157.05" fill="none" stroke="#1c1c1c" stroke-width="1.1"/>
<g fill="#000"><circle cx="256.88" cy="329.62" r="4.05"/><circle cx="244.38" cy="332.25" r="4.05"/><circle cx="264.38" cy="336.88" r="4.05"/><circle cx="255" cy="341.88" r="4.05"/><circle cx="257.5" cy="344.38" r="4.05"/><circle cx="245" cy="346" r="4.05"/><circle cx="301" cy="340.88" r="4.05"/><circle cx="269.12" cy="350.38" r="4.05"/><circle cx="236.88" cy="356.88" r="4.05"/><circle cx="240.62" cy="358.75" r="4.05"/><circle cx="298.12" cy="370.88" r="4.05"/><circle cx="272.25" cy="371" r="4.05"/><circle cx="266.88" cy="373.75" r="4.05"/><circle cx="254.75" cy="372.25" r="4.05"/><circle cx="257.75" cy="379.38" r="4.05"/><circle cx="242.5" cy="376.25" r="4.05"/><circle cx="247.5" cy="376.25" r="4.05"/><circle cx="251.88" cy="376.88" r="4.05"/><circle cx="238.75" cy="379.38" r="4.05"/><circle cx="243.75" cy="380" r="4.05"/><circle cx="248.75" cy="380.62" r="4.05"/><circle cx="253.12" cy="381.25" r="4.05"/><circle cx="236.88" cy="382.5" r="4.05"/><circle cx="241.25" cy="383.75" r="4.05"/><circle cx="246.25" cy="384.38" r="4.05"/><circle cx="250.62" cy="385" r="4.05"/><circle cx="236.88" cy="386.25" r="4.05"/><circle cx="240.62" cy="388.12" r="4.05"/><circle cx="245" cy="388.12" r="4.05"/><circle cx="249.38" cy="388.12" r="4.05"/><circle cx="236.88" cy="390" r="4.05"/><circle cx="240" cy="390.62" r="4.05"/><circle cx="236.25" cy="392.5" r="4.05"/><circle cx="331.75" cy="240.75" r="4.05"/><circle cx="285" cy="264.25" r="4.05"/><circle cx="384.5" cy="268" r="4.05"/><circle cx="309.25" cy="308" r="4.05"/><circle cx="244.5" cy="377.06" r="4.05"/><circle cx="246.9" cy="377.06" r="4.05"/><circle cx="249.3" cy="377.06" r="4.05"/><circle cx="251.7" cy="377.06" r="4.05"/><circle cx="254.1" cy="377.06" r="4.05"/><circle cx="240.9" cy="379.14" r="4.05"/><circle cx="243.3" cy="379.14" r="4.05"/><circle cx="245.7" cy="379.14" r="4.05"/><circle cx="248.1" cy="379.14" r="4.05"/><circle cx="250.5" cy="379.14" r="4.05"/><circle cx="252.9" cy="379.14" r="4.05"/><circle cx="255.3" cy="379.14" r="4.05"/><circle cx="239.7" cy="381.22" r="4.05"/><circle cx="242.1" cy="381.22" r="4.05"/><circle cx="244.5" cy="381.22" r="4.05"/><circle cx="246.9" cy="381.22" r="4.05"/><circle cx="249.3" cy="381.22" r="4.05"/><circle cx="238.5" cy="383.3" r="4.05"/><circle cx="240.9" cy="383.3" r="4.05"/><circle cx="243.3" cy="383.3" r="4.05"/><circle cx="245.7" cy="383.3" r="4.05"/><circle cx="248.1" cy="383.3" r="4.05"/><circle cx="237.3" cy="385.38" r="4.05"/><circle cx="239.7" cy="385.38" r="4.05"/><circle cx="242.1" cy="385.38" r="4.05"/><circle cx="244.5" cy="385.38" r="4.05"/><circle cx="246.9" cy="385.38" r="4.05"/><circle cx="249.3" cy="385.38" r="4.05"/><circle cx="238.5" cy="387.46" r="4.05"/><circle cx="240.9" cy="387.46" r="4.05"/><circle cx="243.3" cy="387.46" r="4.05"/><circle cx="245.7" cy="387.46" r="4.05"/><circle cx="248.1" cy="387.46" r="4.05"/><circle cx="237.3" cy="389.53" r="4.05"/><circle cx="239.7" cy="389.53" r="4.05"/><circle cx="242.1" cy="389.53" r="4.05"/></g>
<text transform="translate(368.25,343.95)" font-size="11.6" text-anchor="end" fill="#1a1a1a">r = 0.837</text>
<text transform="translate(368.25,357.7)" font-size="11.6" text-anchor="end" fill="#1a1a1a">p &lt; 0.0001</text>
<text transform="translate(282.5,404.15)" font-size="11" text-anchor="middle" fill="#1a1a1a">1000</text>
<text transform="translate(328.75,404.15)" font-size="11" text-anchor="middle" fill="#1a1a1a">2000</text>
<text transform="translate(375,404.15)" font-size="11" text-anchor="middle" fill="#1a1a1a">3000</text>
<text transform="translate(233.9,365.45)" font-size="11" text-anchor="end" fill="#1a1a1a">500</text>
<text transform="translate(233.9,335.45)" font-size="11" text-anchor="end" fill="#1a1a1a">1000</text>
<text transform="translate(233.9,305.45)" font-size="11" text-anchor="end" fill="#1a1a1a">1500</text>
<text transform="translate(233.9,275.45)" font-size="11" text-anchor="end" fill="#1a1a1a">2000</text>
<text transform="translate(233.9,245.45)" font-size="11" text-anchor="end" fill="#1a1a1a">2500</text>
<text transform="translate(310.65,421.05)" font-size="11.6" text-anchor="middle" fill="#1a1a1a">real PPG (ms<tspan dy="-5.8" font-size="8.58">2</tspan><tspan dy="5.8">)</tspan></text>
<text transform="translate(207.7,312.73) rotate(-90)" font-size="11.6" text-anchor="middle" fill="#1a1a1a">simulated PPG (ms<tspan dy="-5.8" font-size="8.58">2</tspan><tspan dy="5.8">)</tspan></text>
<text transform="translate(310.65,230.9) scale(1,1)" font-size="11.7" font-weight="bold" text-anchor="middle" fill="#111">(f) LF: <tspan font-style="italic">n</tspan> = 116</text>
</g>
<g id="p_g">
<path d="M448.5 391.25v-2.2 M448.5 234.2v2.2 M490.5 391.25v-2.2 M490.5 234.2v2.2 M532.5 391.25v-2.2 M532.5 234.2v2.2 M574.5 391.25v-2.2 M574.5 234.2v2.2 M437.7 257.5h2.2 M585.5 257.5h-2.2 M437.7 285h2.2 M585.5 285h-2.2 M437.7 312.5h2.2 M585.5 312.5h-2.2 M437.7 340.5h2.2 M585.5 340.5h-2.2 M437.7 368.2h2.2 M585.5 368.2h-2.2" stroke="#1c1c1c" stroke-width="0.8" fill="none"/>
<path d="M437.7 312.4H585.5" stroke="#111" stroke-width="1.1"/>
<path d="M440 287.4H585.5 M440 337.6H585.5" stroke="#2c2c2c" stroke-width="1.25" stroke-dasharray="4.1 3.4" fill="none"/>
<rect x="437.7" y="234.2" width="147.8" height="157.05" fill="none" stroke="#1c1c1c" stroke-width="1.1"/>
<g fill="#000"><circle cx="486" cy="289" r="4.05"/><circle cx="473.75" cy="292.12" r="4.05"/><circle cx="468.5" cy="293.5" r="4.05"/><circle cx="471.88" cy="300" r="4.05"/><circle cx="447.88" cy="302.5" r="4.05"/><circle cx="497.5" cy="318.12" r="4.05"/><circle cx="480.38" cy="322.12" r="4.05"/><circle cx="457.88" cy="321.88" r="4.05"/><circle cx="449.38" cy="326" r="4.05"/><circle cx="444.38" cy="325" r="4.05"/><circle cx="461" cy="338.5" r="4.05"/><circle cx="451.5" cy="340.62" r="4.05"/><circle cx="470" cy="357.5" r="4.05"/><circle cx="440.62" cy="309.38" r="4.05"/><circle cx="445" cy="307.5" r="4.05"/><circle cx="450" cy="308.12" r="4.05"/><circle cx="451.88" cy="311.25" r="4.05"/><circle cx="440" cy="313.12" r="4.05"/><circle cx="443.75" cy="311.88" r="4.05"/><circle cx="448.12" cy="312.5" r="4.05"/><circle cx="451.88" cy="314.38" r="4.05"/><circle cx="442.5" cy="316.25" r="4.05"/><circle cx="446.88" cy="316.88" r="4.05"/><circle cx="450.62" cy="316.88" r="4.05"/><circle cx="443.75" cy="319.38" r="4.05"/><circle cx="447.5" cy="320" r="4.05"/><circle cx="542.25" cy="261.75" r="4.05"/><circle cx="470" cy="271.25" r="4.05"/><circle cx="562.25" cy="293.25" r="4.05"/><circle cx="539.25" cy="320" r="4.05"/><circle cx="506.25" cy="366.4" r="4.05"/><circle cx="493.75" cy="384" r="4.05"/><circle cx="447.62" cy="306.44" r="4.05"/><circle cx="444.02" cy="308.52" r="4.05"/><circle cx="446.42" cy="308.52" r="4.05"/><circle cx="448.82" cy="308.52" r="4.05"/><circle cx="440.42" cy="310.6" r="4.05"/><circle cx="442.82" cy="310.6" r="4.05"/><circle cx="445.22" cy="310.6" r="4.05"/><circle cx="447.62" cy="310.6" r="4.05"/><circle cx="450.02" cy="310.6" r="4.05"/><circle cx="441.62" cy="312.67" r="4.05"/><circle cx="444.02" cy="312.67" r="4.05"/><circle cx="446.42" cy="312.67" r="4.05"/><circle cx="448.82" cy="312.67" r="4.05"/><circle cx="451.22" cy="312.67" r="4.05"/><circle cx="442.82" cy="314.75" r="4.05"/><circle cx="445.22" cy="314.75" r="4.05"/><circle cx="447.62" cy="314.75" r="4.05"/><circle cx="450.02" cy="314.75" r="4.05"/><circle cx="444.02" cy="316.83" r="4.05"/><circle cx="446.42" cy="316.83" r="4.05"/><circle cx="448.82" cy="316.83" r="4.05"/></g>
<text transform="translate(579.9,284.8)" font-size="11.6" text-anchor="end" fill="#1a1a1a">+1.96SD</text>
<text transform="translate(579.9,298)" font-size="11.6" text-anchor="end" fill="#1a1a1a">0.9</text>
<text transform="translate(579.9,309.7)" font-size="11.6" text-anchor="end" fill="#1a1a1a">Mean</text>
<text transform="translate(579.9,322.6)" font-size="11.6" text-anchor="end" fill="#1a1a1a">0</text>
<text transform="translate(579.9,335)" font-size="11.6" text-anchor="end" fill="#1a1a1a">-1.96SD</text>
<text transform="translate(579.9,348.1)" font-size="11.6" text-anchor="end" fill="#1a1a1a">-0.9</text>
<text transform="translate(448.5,404.15)" font-size="11" text-anchor="middle" fill="#1a1a1a">0</text>
<text transform="translate(490.5,404.15)" font-size="11" text-anchor="middle" fill="#1a1a1a">2</text>
<text transform="translate(532.5,404.15)" font-size="11" text-anchor="middle" fill="#1a1a1a">4</text>
<text transform="translate(574.5,404.15)" font-size="11" text-anchor="middle" fill="#1a1a1a">6</text>
<text transform="translate(435.1,261.2)" font-size="11" text-anchor="end" fill="#1a1a1a">2</text>
<text transform="translate(435.1,288.7)" font-size="11" text-anchor="end" fill="#1a1a1a">1</text>
<text transform="translate(435.1,316.2)" font-size="11" text-anchor="end" fill="#1a1a1a">0</text>
<text transform="translate(435.1,344.2)" font-size="11" text-anchor="end" fill="#1a1a1a">-1</text>
<text transform="translate(435.1,371.9)" font-size="11" text-anchor="end" fill="#1a1a1a">-2</text>
<text transform="translate(511.6,417.65)" font-size="11.6" text-anchor="middle" fill="#1a1a1a">Average</text>
<text transform="translate(420.6,313.12) rotate(-90)" font-size="11.6" text-anchor="middle" fill="#1a1a1a">Difference</text>
<text transform="translate(511.6,230.9) scale(1,1)" font-size="11.7" font-weight="bold" text-anchor="middle" fill="#111">(g) HF: <tspan font-style="italic">n</tspan> = 116</text>
</g>
<g id="p_h">
<path d="M666.5 391.25v-2.2 M666.5 234.2v2.2 M694.5 391.25v-2.2 M694.5 234.2v2.2 M722.5 391.25v-2.2 M722.5 234.2v2.2 M750.5 391.25v-2.2 M750.5 234.2v2.2 M778.5 391.25v-2.2 M778.5 234.2v2.2 M638.8 370h2.2 M786.4 370h-2.2 M638.8 348h2.2 M786.4 348h-2.2 M638.8 326h2.2 M786.4 326h-2.2 M638.8 304h2.2 M786.4 304h-2.2 M638.8 282h2.2 M786.4 282h-2.2 M638.8 260h2.2 M786.4 260h-2.2 M638.8 238h2.2 M786.4 238h-2.2" stroke="#1c1c1c" stroke-width="0.8" fill="none"/>
<path d="M638.8 387.7L786.4 233.9" stroke="#111" stroke-width="1.1"/>
<rect x="638.8" y="234.2" width="147.6" height="157.05" fill="none" stroke="#1c1c1c" stroke-width="1.1"/>
<g fill="#000"><circle cx="652.75" cy="326.25" r="4.05"/><circle cx="680" cy="330.62" r="4.05"/><circle cx="700.88" cy="339.38" r="4.05"/><circle cx="650.62" cy="348.12" r="4.05"/><circle cx="680" cy="352.75" r="4.05"/><circle cx="685.38" cy="355" r="4.05"/><circle cx="639" cy="359.38" r="4.05"/><circle cx="654.38" cy="360.25" r="4.05"/><circle cx="678.75" cy="360.62" r="4.05"/><circle cx="690.38" cy="370" r="4.05"/><circle cx="642.88" cy="369.62" r="4.05"/><circle cx="651.88" cy="372.5" r="4.05"/><circle cx="647.5" cy="373.12" r="4.05"/><circle cx="653.12" cy="376.25" r="4.05"/><circle cx="638.75" cy="375.62" r="4.05"/><circle cx="643.75" cy="376.25" r="4.05"/><circle cx="648.75" cy="378.12" r="4.05"/><circle cx="640.62" cy="379.38" r="4.05"/><circle cx="645.62" cy="381.25" r="4.05"/><circle cx="651.25" cy="383.75" r="4.05"/><circle cx="638.75" cy="383.12" r="4.05"/><circle cx="643.12" cy="385" r="4.05"/><circle cx="647.5" cy="385.62" r="4.05"/><circle cx="639.38" cy="387.5" r="4.05"/><circle cx="642.5" cy="388.75" r="4.05"/><circle cx="638.12" cy="391.25" r="4.05"/><circle cx="640.62" cy="390.62" r="4.05"/><circle cx="786.5" cy="235.5" r="4.05"/><circle cx="748.25" cy="253" r="4.05"/><circle cx="690.25" cy="273.75" r="4.05"/><circle cx="776" cy="279.25" r="4.05"/><circle cx="668" cy="281.5" r="4.05"/><circle cx="701" cy="310" r="4.05"/><circle cx="642.77" cy="371.86" r="4.05"/><circle cx="643.97" cy="373.94" r="4.05"/><circle cx="646.37" cy="373.94" r="4.05"/><circle cx="648.77" cy="373.94" r="4.05"/><circle cx="651.17" cy="373.94" r="4.05"/><circle cx="640.38" cy="376.02" r="4.05"/><circle cx="642.77" cy="376.02" r="4.05"/><circle cx="645.17" cy="376.02" r="4.05"/><circle cx="647.57" cy="376.02" r="4.05"/><circle cx="649.97" cy="376.02" r="4.05"/><circle cx="639.17" cy="378.1" r="4.05"/><circle cx="641.57" cy="378.1" r="4.05"/><circle cx="643.97" cy="378.1" r="4.05"/><circle cx="646.37" cy="378.1" r="4.05"/><circle cx="648.77" cy="378.1" r="4.05"/><circle cx="640.38" cy="380.17" r="4.05"/><circle cx="642.77" cy="380.17" r="4.05"/><circle cx="645.17" cy="380.17" r="4.05"/><circle cx="647.57" cy="380.17" r="4.05"/><circle cx="649.97" cy="380.17" r="4.05"/><circle cx="639.17" cy="382.25" r="4.05"/><circle cx="641.57" cy="382.25" r="4.05"/><circle cx="643.97" cy="382.25" r="4.05"/><circle cx="646.37" cy="382.25" r="4.05"/><circle cx="648.77" cy="382.25" r="4.05"/><circle cx="640.38" cy="384.33" r="4.05"/><circle cx="642.77" cy="384.33" r="4.05"/><circle cx="645.17" cy="384.33" r="4.05"/><circle cx="647.57" cy="384.33" r="4.05"/><circle cx="649.97" cy="384.33" r="4.05"/><circle cx="639.17" cy="386.41" r="4.05"/><circle cx="641.57" cy="386.41" r="4.05"/><circle cx="640.38" cy="388.49" r="4.05"/><circle cx="639.17" cy="390.57" r="4.05"/></g>
<text transform="translate(771,341.95)" font-size="11.6" text-anchor="end" fill="#1a1a1a">r = 0.892</text>
<text transform="translate(771,355.7)" font-size="11.6" text-anchor="end" fill="#1a1a1a">p &lt; 0.0001</text>
<text transform="translate(666.5,404.15)" font-size="11" text-anchor="middle" fill="#1a1a1a">1000</text>
<text transform="translate(694.5,404.15)" font-size="11" text-anchor="middle" fill="#1a1a1a">2000</text>
<text transform="translate(722.5,404.15)" font-size="11" text-anchor="middle" fill="#1a1a1a">3000</text>
<text transform="translate(750.5,404.15)" font-size="11" text-anchor="middle" fill="#1a1a1a">4000</text>
<text transform="translate(778.5,404.15)" font-size="11" text-anchor="middle" fill="#1a1a1a">5000</text>
<text transform="translate(636.2,373.7)" font-size="11" text-anchor="end" fill="#1a1a1a">500</text>
<text transform="translate(636.2,351.7)" font-size="11" text-anchor="end" fill="#1a1a1a">1000</text>
<text transform="translate(636.2,329.7)" font-size="11" text-anchor="end" fill="#1a1a1a">1500</text>
<text transform="translate(636.2,307.7)" font-size="11" text-anchor="end" fill="#1a1a1a">2000</text>
<text transform="translate(636.2,285.7)" font-size="11" text-anchor="end" fill="#1a1a1a">2500</text>
<text transform="translate(636.2,263.7)" font-size="11" text-anchor="end" fill="#1a1a1a">3000</text>
<text transform="translate(636.2,241.7)" font-size="11" text-anchor="end" fill="#1a1a1a">3500</text>
<text transform="translate(712.6,421.05)" font-size="11.6" text-anchor="middle" fill="#1a1a1a">real PPG (ms<tspan dy="-5.8" font-size="8.58">2</tspan><tspan dy="5.8">)</tspan></text>
<text transform="translate(609.6,312.73) rotate(-90)" font-size="11.6" text-anchor="middle" fill="#1a1a1a">simulated PPG (ms<tspan dy="-5.8" font-size="8.58">2</tspan><tspan dy="5.8">)</tspan></text>
<text transform="translate(712.6,230.9) scale(1,1)" font-size="11.7" font-weight="bold" text-anchor="middle" fill="#111">(h) HF: <tspan font-style="italic">n</tspan> = 116</text>
</g>
<g id="p_i">
<path d="M55.5 610.1v-2.2 M55.5 453v2.2 M98.75 610.1v-2.2 M98.75 453v2.2 M142 610.1v-2.2 M142 453v2.2 M35.9 468.2h2.2 M183.7 468.2h-2.2 M35.9 500h2.2 M183.7 500h-2.2 M35.9 531.8h2.2 M183.7 531.8h-2.2 M35.9 563.7h2.2 M183.7 563.7h-2.2 M35.9 595.5h2.2 M183.7 595.5h-2.2" stroke="#1c1c1c" stroke-width="0.8" fill="none"/>
<path d="M35.9 531.5H183.7" stroke="#111" stroke-width="1.1"/>
<path d="M39.4 503H183.7 M39.4 560.1H183.7" stroke="#2c2c2c" stroke-width="1.25" stroke-dasharray="4.1 3.4" fill="none"/>
<rect x="35.9" y="453" width="147.8" height="157.1" fill="none" stroke="#1c1c1c" stroke-width="1.1"/>
<g fill="#000"><circle cx="92.43" cy="490.27" r="4.05"/><circle cx="115.43" cy="518.4" r="4.05"/><circle cx="83.68" cy="525.65" r="4.05"/><circle cx="90.18" cy="529.65" r="4.05"/><circle cx="85.18" cy="531.52" r="4.05"/><circle cx="88.93" cy="532.15" r="4.05"/><circle cx="99.18" cy="535.9" r="4.05"/><circle cx="76.68" cy="539.27" r="4.05"/><circle cx="58.93" cy="562.77" r="4.05"/><circle cx="53.3" cy="565.27" r="4.05"/><circle cx="60.8" cy="516.52" r="4.05"/><circle cx="50.8" cy="519.65" r="4.05"/><circle cx="65.8" cy="519.65" r="4.05"/><circle cx="46.43" cy="521.52" r="4.05"/><circle cx="42.05" cy="524.65" r="4.05"/><circle cx="69.55" cy="522.77" r="4.05"/><circle cx="38.3" cy="527.77" r="4.05"/><circle cx="72.05" cy="526.52" r="4.05"/><circle cx="55.8" cy="523.4" r="4.05"/><circle cx="60.8" cy="525.9" r="4.05"/><circle cx="50.8" cy="528.4" r="4.05"/><circle cx="43.3" cy="530.9" r="4.05"/><circle cx="65.8" cy="529.65" r="4.05"/><circle cx="70.8" cy="531.52" r="4.05"/><circle cx="39.55" cy="532.15" r="4.05"/><circle cx="42.05" cy="537.15" r="4.05"/><circle cx="64.55" cy="535.27" r="4.05"/><circle cx="59.55" cy="537.77" r="4.05"/><circle cx="48.3" cy="535.9" r="4.05"/><circle cx="54.55" cy="533.4" r="4.05"/><circle cx="45.8" cy="542.15" r="4.05"/><circle cx="53.3" cy="542.15" r="4.05"/><circle cx="45.8" cy="546.52" r="4.05"/><circle cx="59.55" cy="545.9" r="4.05"/><circle cx="49.55" cy="550.9" r="4.05"/><circle cx="54.55" cy="549.65" r="4.05"/><circle cx="52.05" cy="553.4" r="4.05"/><circle cx="57.05" cy="540.9" r="4.05"/><circle cx="162.4" cy="468.15" r="4.05"/><circle cx="126.4" cy="527.3" r="4.05"/><circle cx="130.8" cy="547.15" r="4.05"/><circle cx="87.05" cy="586.9" r="4.05"/><circle cx="106.7" cy="582.15" r="4.05"/><circle cx="99.2" cy="603.4" r="4.05"/><circle cx="61" cy="519.01" r="4.05"/><circle cx="50.2" cy="521.09" r="4.05"/><circle cx="59.8" cy="521.09" r="4.05"/><circle cx="62.2" cy="521.09" r="4.05"/><circle cx="64.6" cy="521.09" r="4.05"/><circle cx="46.6" cy="523.17" r="4.05"/><circle cx="49" cy="523.17" r="4.05"/><circle cx="51.4" cy="523.17" r="4.05"/><circle cx="53.8" cy="523.17" r="4.05"/><circle cx="56.2" cy="523.17" r="4.05"/><circle cx="58.6" cy="523.17" r="4.05"/><circle cx="61" cy="523.17" r="4.05"/><circle cx="63.4" cy="523.17" r="4.05"/><circle cx="65.8" cy="523.17" r="4.05"/><circle cx="45.4" cy="525.25" r="4.05"/><circle cx="47.8" cy="525.25" r="4.05"/><circle cx="50.2" cy="525.25" r="4.05"/><circle cx="52.6" cy="525.25" r="4.05"/><circle cx="55" cy="525.25" r="4.05"/><circle cx="57.4" cy="525.25" r="4.05"/><circle cx="59.8" cy="525.25" r="4.05"/><circle cx="62.2" cy="525.25" r="4.05"/><circle cx="64.6" cy="525.25" r="4.05"/><circle cx="67" cy="525.25" r="4.05"/><circle cx="69.4" cy="525.25" r="4.05"/><circle cx="41.8" cy="527.32" r="4.05"/><circle cx="44.2" cy="527.32" r="4.05"/><circle cx="46.6" cy="527.32" r="4.05"/><circle cx="49" cy="527.32" r="4.05"/><circle cx="51.4" cy="527.32" r="4.05"/><circle cx="53.8" cy="527.32" r="4.05"/><circle cx="56.2" cy="527.32" r="4.05"/><circle cx="58.6" cy="527.32" r="4.05"/><circle cx="61" cy="527.32" r="4.05"/><circle cx="63.4" cy="527.32" r="4.05"/><circle cx="65.8" cy="527.32" r="4.05"/><circle cx="68.2" cy="527.32" r="4.05"/><circle cx="70.6" cy="527.32" r="4.05"/><circle cx="40.6" cy="529.4" r="4.05"/><circle cx="43" cy="529.4" r="4.05"/><circle cx="45.4" cy="529.4" r="4.05"/><circle cx="47.8" cy="529.4" r="4.05"/><circle cx="50.2" cy="529.4" r="4.05"/><circle cx="52.6" cy="529.4" r="4.05"/><circle cx="55" cy="529.4" r="4.05"/><circle cx="57.4" cy="529.4" r="4.05"/><circle cx="59.8" cy="529.4" r="4.05"/><circle cx="62.2" cy="529.4" r="4.05"/><circle cx="64.6" cy="529.4" r="4.05"/><circle cx="67" cy="529.4" r="4.05"/><circle cx="69.4" cy="529.4" r="4.05"/><circle cx="41.8" cy="531.48" r="4.05"/><circle cx="44.2" cy="531.48" r="4.05"/><circle cx="46.6" cy="531.48" r="4.05"/><circle cx="49" cy="531.48" r="4.05"/><circle cx="51.4" cy="531.48" r="4.05"/><circle cx="53.8" cy="531.48" r="4.05"/><circle cx="56.2" cy="531.48" r="4.05"/><circle cx="58.6" cy="531.48" r="4.05"/><circle cx="61" cy="531.48" r="4.05"/><circle cx="63.4" cy="531.48" r="4.05"/><circle cx="65.8" cy="531.48" r="4.05"/><circle cx="68.2" cy="531.48" r="4.05"/><circle cx="43" cy="533.56" r="4.05"/><circle cx="45.4" cy="533.56" r="4.05"/><circle cx="47.8" cy="533.56" r="4.05"/><circle cx="50.2" cy="533.56" r="4.05"/><circle cx="52.6" cy="533.56" r="4.05"/><circle cx="55" cy="533.56" r="4.05"/><circle cx="57.4" cy="533.56" r="4.05"/><circle cx="59.8" cy="533.56" r="4.05"/><circle cx="62.2" cy="533.56" r="4.05"/><circle cx="64.6" cy="533.56" r="4.05"/><circle cx="44.2" cy="535.64" r="4.05"/><circle cx="46.6" cy="535.64" r="4.05"/><circle cx="49" cy="535.64" r="4.05"/><circle cx="51.4" cy="535.64" r="4.05"/><circle cx="53.8" cy="535.64" r="4.05"/><circle cx="56.2" cy="535.64" r="4.05"/><circle cx="58.6" cy="535.64" r="4.05"/><circle cx="45.4" cy="537.72" r="4.05"/><circle cx="47.8" cy="537.72" r="4.05"/><circle cx="50.2" cy="537.72" r="4.05"/><circle cx="52.6" cy="537.72" r="4.05"/><circle cx="55" cy="537.72" r="4.05"/><circle cx="57.4" cy="537.72" r="4.05"/><circle cx="49" cy="539.79" r="4.05"/><circle cx="51.4" cy="539.79" r="4.05"/><circle cx="53.8" cy="539.79" r="4.05"/><circle cx="56.2" cy="539.79" r="4.05"/><circle cx="50.2" cy="541.87" r="4.05"/><circle cx="52.6" cy="541.87" r="4.05"/><circle cx="55" cy="541.87" r="4.05"/><circle cx="49" cy="543.95" r="4.05"/><circle cx="51.4" cy="543.95" r="4.05"/><circle cx="53.8" cy="543.95" r="4.05"/><circle cx="56.2" cy="543.95" r="4.05"/><circle cx="47.8" cy="546.03" r="4.05"/><circle cx="50.2" cy="546.03" r="4.05"/><circle cx="52.6" cy="546.03" r="4.05"/><circle cx="55" cy="546.03" r="4.05"/><circle cx="49" cy="548.11" r="4.05"/><circle cx="51.4" cy="548.11" r="4.05"/><circle cx="53.8" cy="548.11" r="4.05"/><circle cx="52.6" cy="550.19" r="4.05"/></g>
<text transform="translate(178.1,500.4)" font-size="11.6" text-anchor="end" fill="#1a1a1a">+1.96SD</text>
<text transform="translate(178.1,513.6)" font-size="11.6" text-anchor="end" fill="#1a1a1a">0.9</text>
<text transform="translate(178.1,528.8)" font-size="11.6" text-anchor="end" fill="#1a1a1a">Mean</text>
<text transform="translate(178.1,541.7)" font-size="11.6" text-anchor="end" fill="#1a1a1a">0</text>
<text transform="translate(178.1,557.5)" font-size="11.6" text-anchor="end" fill="#1a1a1a">-1.96SD</text>
<text transform="translate(178.1,570.6)" font-size="11.6" text-anchor="end" fill="#1a1a1a">-0.9</text>
<text transform="translate(55.5,623)" font-size="11" text-anchor="middle" fill="#1a1a1a">0</text>
<text transform="translate(98.75,623)" font-size="11" text-anchor="middle" fill="#1a1a1a">2</text>
<text transform="translate(142,623)" font-size="11" text-anchor="middle" fill="#1a1a1a">4</text>
<text transform="translate(33.3,471.9)" font-size="11" text-anchor="end" fill="#1a1a1a">2</text>
<text transform="translate(33.3,503.7)" font-size="11" text-anchor="end" fill="#1a1a1a">1</text>
<text transform="translate(33.3,535.5)" font-size="11" text-anchor="end" fill="#1a1a1a">0</text>
<text transform="translate(33.3,567.4)" font-size="11" text-anchor="end" fill="#1a1a1a">-1</text>
<text transform="translate(33.3,599.2)" font-size="11" text-anchor="end" fill="#1a1a1a">-2</text>
<text transform="translate(109.8,636.5)" font-size="11.6" text-anchor="middle" fill="#1a1a1a">Average</text>
<text transform="translate(19.1,531.95) rotate(-90)" font-size="11.6" text-anchor="middle" fill="#1a1a1a">Difference</text>
<text transform="translate(109.8,449.7) scale(1,1)" font-size="11.7" font-weight="bold" text-anchor="middle" fill="#111">(i) SD1: <tspan font-style="italic">n</tspan> = 116</text>
</g>
<g id="p_j">
<path d="M280.75 610.1v-2.2 M280.75 453v2.2 M328.25 610.1v-2.2 M328.25 453v2.2 M375.75 610.1v-2.2 M375.75 453v2.2 M236.5 585.75h2.2 M384.8 585.75h-2.2 M236.5 551h2.2 M384.8 551h-2.2 M236.5 516.4h2.2 M384.8 516.4h-2.2 M236.5 481.75h2.2 M384.8 481.75h-2.2" stroke="#1c1c1c" stroke-width="0.8" fill="none"/>
<path d="M236.4 606.2L384.4 453.2" stroke="#111" stroke-width="1.1"/>
<rect x="236.5" y="453" width="148.3" height="157.1" fill="none" stroke="#1c1c1c" stroke-width="1.1"/>
<g fill="#000"><circle cx="289.4" cy="549.62" r="4.05"/><circle cx="285.9" cy="551.5" r="4.05"/><circle cx="282.77" cy="555.25" r="4.05"/><circle cx="283.4" cy="559" r="4.05"/><circle cx="271.77" cy="562.12" r="4.05"/><circle cx="305.27" cy="563.38" r="4.05"/><circle cx="267.15" cy="572.75" r="4.05"/><circle cx="271.52" cy="572.75" r="4.05"/><circle cx="244.65" cy="573.38" r="4.05"/><circle cx="239.02" cy="578.75" r="4.05"/><circle cx="269.65" cy="578.38" r="4.05"/><circle cx="250.9" cy="580.25" r="4.05"/><circle cx="259.65" cy="579.62" r="4.05"/><circle cx="267.15" cy="582.75" r="4.05"/><circle cx="263.4" cy="585.88" r="4.05"/><circle cx="264.65" cy="590.25" r="4.05"/><circle cx="258.4" cy="591.5" r="4.05"/><circle cx="257.15" cy="584" r="4.05"/><circle cx="249.65" cy="585.25" r="4.05"/><circle cx="243.4" cy="584" r="4.05"/><circle cx="239.65" cy="587.75" r="4.05"/><circle cx="244.65" cy="590.25" r="4.05"/><circle cx="252.15" cy="592.75" r="4.05"/><circle cx="239.65" cy="592.75" r="4.05"/><circle cx="245.9" cy="595.25" r="4.05"/><circle cx="254.65" cy="597.12" r="4.05"/><circle cx="239.15" cy="597.75" r="4.05"/><circle cx="243.4" cy="600.25" r="4.05"/><circle cx="250.9" cy="601.5" r="4.05"/><circle cx="238.4" cy="602.75" r="4.05"/><circle cx="240.9" cy="605.25" r="4.05"/><circle cx="247.15" cy="605.25" r="4.05"/><circle cx="238.15" cy="607.75" r="4.05"/><circle cx="240.9" cy="609" r="4.05"/><circle cx="237.9" cy="611.25" r="4.05"/><circle cx="258.4" cy="587.75" r="4.05"/><circle cx="248.4" cy="597.75" r="4.05"/><circle cx="324.4" cy="494.88" r="4.05"/><circle cx="326.9" cy="508" r="4.05"/><circle cx="318.4" cy="524.88" r="4.05"/><circle cx="272.15" cy="509.62" r="4.05"/><circle cx="287.4" cy="509.25" r="4.05"/><circle cx="265.65" cy="530.5" r="4.05"/><circle cx="296.15" cy="536.5" r="4.05"/><circle cx="288.4" cy="549.88" r="4.05"/><circle cx="282.77" cy="554.88" r="4.05"/><circle cx="384.8" cy="489" r="4.05"/><circle cx="244.57" cy="574.61" r="4.05"/><circle cx="268.57" cy="574.61" r="4.05"/><circle cx="270.97" cy="574.61" r="4.05"/><circle cx="243.37" cy="576.69" r="4.05"/><circle cx="269.77" cy="576.69" r="4.05"/><circle cx="239.78" cy="578.77" r="4.05"/><circle cx="242.17" cy="578.77" r="4.05"/><circle cx="244.57" cy="578.77" r="4.05"/><circle cx="268.57" cy="578.77" r="4.05"/><circle cx="240.97" cy="580.85" r="4.05"/><circle cx="243.37" cy="580.85" r="4.05"/><circle cx="245.77" cy="580.85" r="4.05"/><circle cx="260.17" cy="580.85" r="4.05"/><circle cx="239.78" cy="582.92" r="4.05"/><circle cx="242.17" cy="582.92" r="4.05"/><circle cx="244.57" cy="582.92" r="4.05"/><circle cx="246.97" cy="582.92" r="4.05"/><circle cx="249.37" cy="582.92" r="4.05"/><circle cx="251.77" cy="582.92" r="4.05"/><circle cx="254.17" cy="582.92" r="4.05"/><circle cx="256.57" cy="582.92" r="4.05"/><circle cx="258.97" cy="582.92" r="4.05"/><circle cx="261.37" cy="582.92" r="4.05"/><circle cx="263.77" cy="582.92" r="4.05"/><circle cx="266.17" cy="582.92" r="4.05"/><circle cx="240.97" cy="585" r="4.05"/><circle cx="243.37" cy="585" r="4.05"/><circle cx="245.77" cy="585" r="4.05"/><circle cx="248.17" cy="585" r="4.05"/><circle cx="250.57" cy="585" r="4.05"/><circle cx="252.97" cy="585" r="4.05"/><circle cx="255.37" cy="585" r="4.05"/><circle cx="257.77" cy="585" r="4.05"/><circle cx="260.17" cy="585" r="4.05"/><circle cx="262.57" cy="585" r="4.05"/><circle cx="264.97" cy="585" r="4.05"/><circle cx="239.78" cy="587.08" r="4.05"/><circle cx="242.17" cy="587.08" r="4.05"/><circle cx="244.57" cy="587.08" r="4.05"/><circle cx="246.97" cy="587.08" r="4.05"/><circle cx="249.37" cy="587.08" r="4.05"/><circle cx="251.77" cy="587.08" r="4.05"/><circle cx="254.17" cy="587.08" r="4.05"/><circle cx="256.57" cy="587.08" r="4.05"/><circle cx="258.97" cy="587.08" r="4.05"/><circle cx="261.37" cy="587.08" r="4.05"/><circle cx="263.77" cy="587.08" r="4.05"/><circle cx="240.97" cy="589.16" r="4.05"/><circle cx="243.37" cy="589.16" r="4.05"/><circle cx="245.77" cy="589.16" r="4.05"/><circle cx="248.17" cy="589.16" r="4.05"/><circle cx="250.57" cy="589.16" r="4.05"/><circle cx="252.97" cy="589.16" r="4.05"/><circle cx="255.37" cy="589.16" r="4.05"/><circle cx="257.77" cy="589.16" r="4.05"/><circle cx="260.17" cy="589.16" r="4.05"/><circle cx="262.57" cy="589.16" r="4.05"/><circle cx="239.78" cy="591.24" r="4.05"/><circle cx="242.17" cy="591.24" r="4.05"/><circle cx="244.57" cy="591.24" r="4.05"/><circle cx="246.97" cy="591.24" r="4.05"/><circle cx="249.37" cy="591.24" r="4.05"/><circle cx="251.77" cy="591.24" r="4.05"/><circle cx="254.17" cy="591.24" r="4.05"/><circle cx="256.57" cy="591.24" r="4.05"/><circle cx="240.97" cy="593.32" r="4.05"/><circle cx="243.37" cy="593.32" r="4.05"/><circle cx="245.77" cy="593.32" r="4.05"/><circle cx="248.17" cy="593.32" r="4.05"/><circle cx="250.57" cy="593.32" r="4.05"/><circle cx="252.97" cy="593.32" r="4.05"/><circle cx="255.37" cy="593.32" r="4.05"/><circle cx="239.78" cy="595.39" r="4.05"/><circle cx="242.17" cy="595.39" r="4.05"/><circle cx="244.57" cy="595.39" r="4.05"/><circle cx="246.97" cy="595.39" r="4.05"/><circle cx="249.37" cy="595.39" r="4.05"/><circle cx="251.77" cy="595.39" r="4.05"/><circle cx="254.17" cy="595.39" r="4.05"/><circle cx="238.57" cy="597.47" r="4.05"/><circle cx="240.97" cy="597.47" r="4.05"/><circle cx="243.37" cy="597.47" r="4.05"/><circle cx="245.77" cy="597.47" r="4.05"/><circle cx="248.17" cy="597.47" r="4.05"/><circle cx="250.57" cy="597.47" r="4.05"/><circle cx="252.97" cy="597.47" r="4.05"/><circle cx="239.78" cy="599.55" r="4.05"/><circle cx="242.17" cy="599.55" r="4.05"/><circle cx="244.57" cy="599.55" r="4.05"/><circle cx="246.97" cy="599.55" r="4.05"/><circle cx="249.37" cy="599.55" r="4.05"/><circle cx="251.77" cy="599.55" r="4.05"/><circle cx="238.57" cy="601.63" r="4.05"/><circle cx="240.97" cy="601.63" r="4.05"/><circle cx="243.37" cy="601.63" r="4.05"/><circle cx="245.77" cy="601.63" r="4.05"/><circle cx="248.17" cy="601.63" r="4.05"/><circle cx="250.57" cy="601.63" r="4.05"/><circle cx="239.78" cy="603.71" r="4.05"/><circle cx="242.17" cy="603.71" r="4.05"/><circle cx="244.57" cy="603.71" r="4.05"/><circle cx="246.97" cy="603.71" r="4.05"/><circle cx="238.57" cy="605.79" r="4.05"/><circle cx="240.97" cy="605.79" r="4.05"/><circle cx="243.37" cy="605.79" r="4.05"/><circle cx="239.78" cy="607.86" r="4.05"/><circle cx="238.57" cy="609.94" r="4.05"/></g>
<text transform="translate(368.25,571.45)" font-size="11.6" text-anchor="end" fill="#1a1a1a">r = 0.895</text>
<text transform="translate(368.25,585.2)" font-size="11.6" text-anchor="end" fill="#1a1a1a">p &lt; 0.0001</text>
<text transform="translate(280.75,623)" font-size="11" text-anchor="middle" fill="#1a1a1a">50</text>
<text transform="translate(328.25,623)" font-size="11" text-anchor="middle" fill="#1a1a1a">100</text>
<text transform="translate(375.75,623)" font-size="11" text-anchor="middle" fill="#1a1a1a">150</text>
<text transform="translate(233.9,589.45)" font-size="11" text-anchor="end" fill="#1a1a1a">20</text>
<text transform="translate(233.9,554.7)" font-size="11" text-anchor="end" fill="#1a1a1a">40</text>
<text transform="translate(233.9,520.1)" font-size="11" text-anchor="end" fill="#1a1a1a">60</text>
<text transform="translate(233.9,485.45)" font-size="11" text-anchor="end" fill="#1a1a1a">80</text>
<text transform="translate(310.65,636.5)" font-size="11.6" text-anchor="middle" fill="#1a1a1a">real PPG (ms)</text>
<text transform="translate(219.8,531.95) rotate(-90)" font-size="11.6" text-anchor="middle" fill="#1a1a1a">simulated PPG (ms)</text>
<text transform="translate(310.65,449.7) scale(1,1)" font-size="11.7" font-weight="bold" text-anchor="middle" fill="#111">(j) SD1: <tspan font-style="italic">n</tspan> = 116</text>
</g>
<g id="p_k">
<path d="M466.75 610.1v-2.2 M466.75 453v2.2 M523 610.1v-2.2 M523 453v2.2 M579.25 610.1v-2.2 M579.25 453v2.2 M437.7 458.75h2.2 M585.5 458.75h-2.2 M437.7 495.4h2.2 M585.5 495.4h-2.2 M437.7 531.75h2.2 M585.5 531.75h-2.2 M437.7 568.2h2.2 M585.5 568.2h-2.2 M437.7 604.5h2.2 M585.5 604.5h-2.2" stroke="#1c1c1c" stroke-width="0.8" fill="none"/>
<path d="M437.7 531.6H585.5" stroke="#111" stroke-width="1.1"/>
<path d="M443.1 508.7H585.5 M443.1 554.4H585.5" stroke="#2c2c2c" stroke-width="1.25" stroke-dasharray="4.1 3.4" fill="none"/>
<rect x="437.7" y="453" width="147.8" height="157.1" fill="none" stroke="#1c1c1c" stroke-width="1.1"/>
<g fill="#000"><circle cx="481.62" cy="511.5" r="4.05"/><circle cx="488.75" cy="512.5" r="4.05"/><circle cx="492.88" cy="511.5" r="4.05"/><circle cx="524.62" cy="526.88" r="4.05"/><circle cx="512.12" cy="532.5" r="4.05"/><circle cx="494.12" cy="532.12" r="4.05"/><circle cx="496.25" cy="535.62" r="4.05"/><circle cx="503.75" cy="535.62" r="4.05"/><circle cx="507.75" cy="541.25" r="4.05"/><circle cx="487.5" cy="537.75" r="4.05"/><circle cx="483.75" cy="535" r="4.05"/><circle cx="494.75" cy="550.38" r="4.05"/><circle cx="457.75" cy="561.25" r="4.05"/><circle cx="441.25" cy="531.88" r="4.05"/><circle cx="444.38" cy="530" r="4.05"/><circle cx="444.38" cy="533.75" r="4.05"/><circle cx="447.5" cy="528.12" r="4.05"/><circle cx="447.5" cy="531.88" r="4.05"/><circle cx="447.5" cy="535.62" r="4.05"/><circle cx="450.62" cy="526.88" r="4.05"/><circle cx="450.62" cy="530.62" r="4.05"/><circle cx="451.25" cy="534.38" r="4.05"/><circle cx="451.25" cy="538.12" r="4.05"/><circle cx="455" cy="523.75" r="4.05"/><circle cx="455" cy="527.5" r="4.05"/><circle cx="455" cy="531.88" r="4.05"/><circle cx="455" cy="536.25" r="4.05"/><circle cx="455.62" cy="540.62" r="4.05"/><circle cx="459.38" cy="525.62" r="4.05"/><circle cx="459.38" cy="530" r="4.05"/><circle cx="459.38" cy="534.38" r="4.05"/><circle cx="460" cy="538.12" r="4.05"/><circle cx="463.12" cy="523.12" r="4.05"/><circle cx="463.75" cy="527.5" r="4.05"/><circle cx="463.75" cy="532.5" r="4.05"/><circle cx="463.75" cy="536.88" r="4.05"/><circle cx="464.38" cy="541.25" r="4.05"/><circle cx="468.12" cy="520" r="4.05"/><circle cx="468.12" cy="524.38" r="4.05"/><circle cx="468.12" cy="528.75" r="4.05"/><circle cx="468.12" cy="533.12" r="4.05"/><circle cx="468.12" cy="537.5" r="4.05"/><circle cx="468.75" cy="541.25" r="4.05"/><circle cx="474.38" cy="516.88" r="4.05"/><circle cx="472.5" cy="521.88" r="4.05"/><circle cx="472.5" cy="526.25" r="4.05"/><circle cx="472.5" cy="531.25" r="4.05"/><circle cx="472.5" cy="535.62" r="4.05"/><circle cx="473.12" cy="540" r="4.05"/><circle cx="477.5" cy="519.38" r="4.05"/><circle cx="477.5" cy="524.38" r="4.05"/><circle cx="477.5" cy="528.75" r="4.05"/><circle cx="477.5" cy="533.75" r="4.05"/><circle cx="481.88" cy="521.25" r="4.05"/><circle cx="481.88" cy="526.25" r="4.05"/><circle cx="480" cy="536.25" r="4.05"/><circle cx="561.25" cy="496.75" r="4.05"/><circle cx="534.75" cy="506.75" r="4.05"/><circle cx="562.25" cy="508.5" r="4.05"/><circle cx="535.75" cy="544.5" r="4.05"/><circle cx="565.75" cy="541.25" r="4.05"/><circle cx="551.5" cy="553.25" r="4.05"/><circle cx="554" cy="580.75" r="4.05"/><circle cx="473.6" cy="603" r="4.05"/><circle cx="472.3" cy="519.36" r="4.05"/><circle cx="474.7" cy="519.36" r="4.05"/><circle cx="477.1" cy="519.36" r="4.05"/><circle cx="468.7" cy="521.44" r="4.05"/><circle cx="471.1" cy="521.44" r="4.05"/><circle cx="473.5" cy="521.44" r="4.05"/><circle cx="475.9" cy="521.44" r="4.05"/><circle cx="478.3" cy="521.44" r="4.05"/><circle cx="480.7" cy="521.44" r="4.05"/><circle cx="460.3" cy="523.52" r="4.05"/><circle cx="462.7" cy="523.52" r="4.05"/><circle cx="465.1" cy="523.52" r="4.05"/><circle cx="467.5" cy="523.52" r="4.05"/><circle cx="469.9" cy="523.52" r="4.05"/><circle cx="472.3" cy="523.52" r="4.05"/><circle cx="474.7" cy="523.52" r="4.05"/><circle cx="477.1" cy="523.52" r="4.05"/><circle cx="479.5" cy="523.52" r="4.05"/><circle cx="481.9" cy="523.52" r="4.05"/><circle cx="454.3" cy="525.6" r="4.05"/><circle cx="456.7" cy="525.6" r="4.05"/><circle cx="459.1" cy="525.6" r="4.05"/><circle cx="461.5" cy="525.6" r="4.05"/><circle cx="463.9" cy="525.6" r="4.05"/><circle cx="466.3" cy="525.6" r="4.05"/><circle cx="468.7" cy="525.6" r="4.05"/><circle cx="471.1" cy="525.6" r="4.05"/><circle cx="473.5" cy="525.6" r="4.05"/><circle cx="475.9" cy="525.6" r="4.05"/><circle cx="478.3" cy="525.6" r="4.05"/><circle cx="480.7" cy="525.6" r="4.05"/><circle cx="450.7" cy="527.67" r="4.05"/><circle cx="453.1" cy="527.67" r="4.05"/><circle cx="455.5" cy="527.67" r="4.05"/><circle cx="457.9" cy="527.67" r="4.05"/><circle cx="460.3" cy="527.67" r="4.05"/><circle cx="462.7" cy="527.67" r="4.05"/><circle cx="465.1" cy="527.67" r="4.05"/><circle cx="467.5" cy="527.67" r="4.05"/><circle cx="469.9" cy="527.67" r="4.05"/><circle cx="472.3" cy="527.67" r="4.05"/><circle cx="474.7" cy="527.67" r="4.05"/><circle cx="477.1" cy="527.67" r="4.05"/><circle cx="447.1" cy="529.75" r="4.05"/><circle cx="449.5" cy="529.75" r="4.05"/><circle cx="451.9" cy="529.75" r="4.05"/><circle cx="454.3" cy="529.75" r="4.05"/><circle cx="456.7" cy="529.75" r="4.05"/><circle cx="459.1" cy="529.75" r="4.05"/><circle cx="461.5" cy="529.75" r="4.05"/><circle cx="463.9" cy="529.75" r="4.05"/><circle cx="466.3" cy="529.75" r="4.05"/><circle cx="468.7" cy="529.75" r="4.05"/><circle cx="471.1" cy="529.75" r="4.05"/><circle cx="473.5" cy="529.75" r="4.05"/><circle cx="475.9" cy="529.75" r="4.05"/><circle cx="443.5" cy="531.83" r="4.05"/><circle cx="445.9" cy="531.83" r="4.05"/><circle cx="448.3" cy="531.83" r="4.05"/><circle cx="450.7" cy="531.83" r="4.05"/><circle cx="453.1" cy="531.83" r="4.05"/><circle cx="455.5" cy="531.83" r="4.05"/><circle cx="457.9" cy="531.83" r="4.05"/><circle cx="460.3" cy="531.83" r="4.05"/><circle cx="462.7" cy="531.83" r="4.05"/><circle cx="465.1" cy="531.83" r="4.05"/><circle cx="467.5" cy="531.83" r="4.05"/><circle cx="469.9" cy="531.83" r="4.05"/><circle cx="472.3" cy="531.83" r="4.05"/><circle cx="474.7" cy="531.83" r="4.05"/><circle cx="447.1" cy="533.91" r="4.05"/><circle cx="449.5" cy="533.91" r="4.05"/><circle cx="451.9" cy="533.91" r="4.05"/><circle cx="454.3" cy="533.91" r="4.05"/><circle cx="456.7" cy="533.91" r="4.05"/><circle cx="459.1" cy="533.91" r="4.05"/><circle cx="461.5" cy="533.91" r="4.05"/><circle cx="463.9" cy="533.91" r="4.05"/><circle cx="466.3" cy="533.91" r="4.05"/><circle cx="468.7" cy="533.91" r="4.05"/><circle cx="471.1" cy="533.91" r="4.05"/><circle cx="473.5" cy="533.91" r="4.05"/><circle cx="475.9" cy="533.91" r="4.05"/><circle cx="448.3" cy="535.99" r="4.05"/><circle cx="450.7" cy="535.99" r="4.05"/><circle cx="453.1" cy="535.99" r="4.05"/><circle cx="455.5" cy="535.99" r="4.05"/><circle cx="457.9" cy="535.99" r="4.05"/><circle cx="460.3" cy="535.99" r="4.05"/><circle cx="462.7" cy="535.99" r="4.05"/><circle cx="465.1" cy="535.99" r="4.05"/><circle cx="467.5" cy="535.99" r="4.05"/><circle cx="469.9" cy="535.99" r="4.05"/><circle cx="472.3" cy="535.99" r="4.05"/><circle cx="474.7" cy="535.99" r="4.05"/><circle cx="481.9" cy="535.99" r="4.05"/><circle cx="451.9" cy="538.07" r="4.05"/><circle cx="454.3" cy="538.07" r="4.05"/><circle cx="456.7" cy="538.07" r="4.05"/><circle cx="459.1" cy="538.07" r="4.05"/><circle cx="461.5" cy="538.07" r="4.05"/><circle cx="463.9" cy="538.07" r="4.05"/><circle cx="466.3" cy="538.07" r="4.05"/><circle cx="468.7" cy="538.07" r="4.05"/><circle cx="471.1" cy="538.07" r="4.05"/><circle cx="473.5" cy="538.07" r="4.05"/><circle cx="465.1" cy="540.14" r="4.05"/><circle cx="467.5" cy="540.14" r="4.05"/><circle cx="469.9" cy="540.14" r="4.05"/></g>
<text transform="translate(579.9,506.1)" font-size="11.6" text-anchor="end" fill="#1a1a1a">+1.96SD</text>
<text transform="translate(579.9,519.3)" font-size="11.6" text-anchor="end" fill="#1a1a1a">0.6</text>
<text transform="translate(579.9,528.9)" font-size="11.6" text-anchor="end" fill="#1a1a1a">Mean</text>
<text transform="translate(579.9,541.8)" font-size="11.6" text-anchor="end" fill="#1a1a1a">0</text>
<text transform="translate(579.9,551.8)" font-size="11.6" text-anchor="end" fill="#1a1a1a">-1.96SD</text>
<text transform="translate(579.9,564.9)" font-size="11.6" text-anchor="end" fill="#1a1a1a">-0.6</text>
<text transform="translate(466.75,623)" font-size="11" text-anchor="middle" fill="#1a1a1a">0</text>
<text transform="translate(523,623)" font-size="11" text-anchor="middle" fill="#1a1a1a">2</text>
<text transform="translate(579.25,623)" font-size="11" text-anchor="middle" fill="#1a1a1a">4</text>
<text transform="translate(435.1,462.45)" font-size="11" text-anchor="end" fill="#1a1a1a">2</text>
<text transform="translate(435.1,499.1)" font-size="11" text-anchor="end" fill="#1a1a1a">1</text>
<text transform="translate(435.1,535.45)" font-size="11" text-anchor="end" fill="#1a1a1a">0</text>
<text transform="translate(435.1,571.9)" font-size="11" text-anchor="end" fill="#1a1a1a">-1</text>
<text transform="translate(435.1,608.2)" font-size="11" text-anchor="end" fill="#1a1a1a">-2</text>
<text transform="translate(511.6,636.5)" font-size="11.6" text-anchor="middle" fill="#1a1a1a">Average</text>
<text transform="translate(420.6,531.95) rotate(-90)" font-size="11.6" text-anchor="middle" fill="#1a1a1a">Difference</text>
<text transform="translate(511.6,449.7) scale(1,1)" font-size="11.7" font-weight="bold" text-anchor="middle" fill="#111">(k) SD2: <tspan font-style="italic">n</tspan> = 116</text>
</g>
<g id="p_l">
<path d="M657.25 610.1v-2.2 M657.25 453v2.2 M681.5 610.1v-2.2 M681.5 453v2.2 M705.75 610.1v-2.2 M705.75 453v2.2 M730 610.1v-2.2 M730 453v2.2 M754.25 610.1v-2.2 M754.25 453v2.2 M778.5 610.1v-2.2 M778.5 453v2.2 M638.8 586.25h2.2 M786.4 586.25h-2.2 M638.8 553.25h2.2 M786.4 553.25h-2.2 M638.8 520.5h2.2 M786.4 520.5h-2.2 M638.8 487.5h2.2 M786.4 487.5h-2.2 M638.8 455h2.2 M786.4 455h-2.2" stroke="#1c1c1c" stroke-width="0.8" fill="none"/>
<path d="M638.8 610.1L786.4 456.75" stroke="#111" stroke-width="1.1"/>
<rect x="638.8" y="453" width="147.6" height="157.1" fill="none" stroke="#1c1c1c" stroke-width="1.1"/>
<g fill="#000"><circle cx="742" cy="452.5" r="4.05"/><circle cx="771.5" cy="456.25" r="4.05"/><circle cx="751" cy="468.25" r="4.05"/><circle cx="782.25" cy="475.5" r="4.05"/><circle cx="786.25" cy="482.5" r="4.05"/><circle cx="737.25" cy="491.25" r="4.05"/><circle cx="752.75" cy="510" r="4.05"/><circle cx="731.75" cy="513.25" r="4.05"/><circle cx="715.75" cy="525.75" r="4.05"/><circle cx="707.25" cy="526.75" r="4.05"/><circle cx="705.25" cy="533.75" r="4.05"/><circle cx="689" cy="538" r="4.05"/><circle cx="643.25" cy="539.25" r="4.05"/><circle cx="697.25" cy="542.5" r="4.05"/><circle cx="696" cy="547.5" r="4.05"/><circle cx="686" cy="553.75" r="4.05"/><circle cx="703.5" cy="558.75" r="4.05"/><circle cx="697.75" cy="563.25" r="4.05"/><circle cx="690.25" cy="572" r="4.05"/><circle cx="643.25" cy="578" r="4.05"/><circle cx="679" cy="563.75" r="4.05"/><circle cx="675.25" cy="570" r="4.05"/><circle cx="682.75" cy="570" r="4.05"/><circle cx="670.25" cy="575" r="4.05"/><circle cx="677.75" cy="576.25" r="4.05"/><circle cx="665.25" cy="580" r="4.05"/><circle cx="672.75" cy="580" r="4.05"/><circle cx="659" cy="585" r="4.05"/><circle cx="666.5" cy="586.25" r="4.05"/><circle cx="656.5" cy="591.25" r="4.05"/><circle cx="652.75" cy="596.25" r="4.05"/><circle cx="649" cy="600" r="4.05"/><circle cx="641.5" cy="606.25" r="4.05"/><circle cx="645.25" cy="603.75" r="4.05"/><circle cx="647.75" cy="600" r="4.05"/><circle cx="651.5" cy="598.75" r="4.05"/><circle cx="655.25" cy="595" r="4.05"/><circle cx="654" cy="590" r="4.05"/><circle cx="660.25" cy="590" r="4.05"/><circle cx="683" cy="562.47" r="4.05"/><circle cx="679.4" cy="564.55" r="4.05"/><circle cx="681.8" cy="564.55" r="4.05"/><circle cx="684.2" cy="564.55" r="4.05"/><circle cx="678.2" cy="566.63" r="4.05"/><circle cx="680.6" cy="566.63" r="4.05"/><circle cx="683" cy="566.63" r="4.05"/><circle cx="685.4" cy="566.63" r="4.05"/><circle cx="674.6" cy="568.71" r="4.05"/><circle cx="677" cy="568.71" r="4.05"/><circle cx="679.4" cy="568.71" r="4.05"/><circle cx="681.8" cy="568.71" r="4.05"/><circle cx="684.2" cy="568.71" r="4.05"/><circle cx="686.6" cy="568.71" r="4.05"/><circle cx="671" cy="570.78" r="4.05"/><circle cx="673.4" cy="570.78" r="4.05"/><circle cx="675.8" cy="570.78" r="4.05"/><circle cx="678.2" cy="570.78" r="4.05"/><circle cx="680.6" cy="570.78" r="4.05"/><circle cx="683" cy="570.78" r="4.05"/><circle cx="685.4" cy="570.78" r="4.05"/><circle cx="687.8" cy="570.78" r="4.05"/><circle cx="667.4" cy="572.86" r="4.05"/><circle cx="669.8" cy="572.86" r="4.05"/><circle cx="672.2" cy="572.86" r="4.05"/><circle cx="674.6" cy="572.86" r="4.05"/><circle cx="677" cy="572.86" r="4.05"/><circle cx="679.4" cy="572.86" r="4.05"/><circle cx="681.8" cy="572.86" r="4.05"/><circle cx="666.2" cy="574.94" r="4.05"/><circle cx="668.6" cy="574.94" r="4.05"/><circle cx="671" cy="574.94" r="4.05"/><circle cx="673.4" cy="574.94" r="4.05"/><circle cx="675.8" cy="574.94" r="4.05"/><circle cx="678.2" cy="574.94" r="4.05"/><circle cx="680.6" cy="574.94" r="4.05"/><circle cx="662.6" cy="577.02" r="4.05"/><circle cx="665" cy="577.02" r="4.05"/><circle cx="667.4" cy="577.02" r="4.05"/><circle cx="669.8" cy="577.02" r="4.05"/><circle cx="672.2" cy="577.02" r="4.05"/><circle cx="674.6" cy="577.02" r="4.05"/><circle cx="677" cy="577.02" r="4.05"/><circle cx="679.4" cy="577.02" r="4.05"/><circle cx="661.4" cy="579.1" r="4.05"/><circle cx="663.8" cy="579.1" r="4.05"/><circle cx="666.2" cy="579.1" r="4.05"/><circle cx="668.6" cy="579.1" r="4.05"/><circle cx="671" cy="579.1" r="4.05"/><circle cx="673.4" cy="579.1" r="4.05"/><circle cx="675.8" cy="579.1" r="4.05"/><circle cx="660.2" cy="581.18" r="4.05"/><circle cx="662.6" cy="581.18" r="4.05"/><circle cx="665" cy="581.18" r="4.05"/><circle cx="667.4" cy="581.18" r="4.05"/><circle cx="669.8" cy="581.18" r="4.05"/><circle cx="672.2" cy="581.18" r="4.05"/><circle cx="661.4" cy="583.25" r="4.05"/><circle cx="663.8" cy="583.25" r="4.05"/><circle cx="666.2" cy="583.25" r="4.05"/><circle cx="668.6" cy="583.25" r="4.05"/><circle cx="671" cy="583.25" r="4.05"/><circle cx="660.2" cy="585.33" r="4.05"/><circle cx="662.6" cy="585.33" r="4.05"/><circle cx="665" cy="585.33" r="4.05"/><circle cx="659" cy="587.41" r="4.05"/><circle cx="661.4" cy="587.41" r="4.05"/><circle cx="663.8" cy="587.41" r="4.05"/><circle cx="657.8" cy="589.49" r="4.05"/><circle cx="660.2" cy="589.49" r="4.05"/><circle cx="662.6" cy="589.49" r="4.05"/><circle cx="651.8" cy="591.57" r="4.05"/><circle cx="654.2" cy="591.57" r="4.05"/><circle cx="656.6" cy="591.57" r="4.05"/><circle cx="659" cy="591.57" r="4.05"/><circle cx="650.6" cy="593.65" r="4.05"/><circle cx="653" cy="593.65" r="4.05"/><circle cx="655.4" cy="593.65" r="4.05"/><circle cx="657.8" cy="593.65" r="4.05"/><circle cx="649.4" cy="595.72" r="4.05"/><circle cx="651.8" cy="595.72" r="4.05"/><circle cx="654.2" cy="595.72" r="4.05"/><circle cx="656.6" cy="595.72" r="4.05"/><circle cx="648.2" cy="597.8" r="4.05"/><circle cx="650.6" cy="597.8" r="4.05"/><circle cx="653" cy="597.8" r="4.05"/><circle cx="655.4" cy="597.8" r="4.05"/><circle cx="647" cy="599.88" r="4.05"/><circle cx="649.4" cy="599.88" r="4.05"/><circle cx="645.8" cy="601.96" r="4.05"/><circle cx="644.6" cy="604.04" r="4.05"/><circle cx="647" cy="604.04" r="4.05"/><circle cx="643.4" cy="606.12" r="4.05"/><circle cx="638.75" cy="609.75" r="4.05"/><circle cx="641.25" cy="606.25" r="4.05"/><circle cx="643.75" cy="603.12" r="4.05"/><circle cx="645.62" cy="599.38" r="4.05"/><circle cx="648.75" cy="595" r="4.05"/><circle cx="650" cy="591.25" r="4.05"/><circle cx="651.88" cy="590.88" r="4.05"/><circle cx="656.25" cy="590.25" r="4.05"/><circle cx="660.25" cy="580.62" r="4.05"/><circle cx="659.38" cy="579" r="4.05"/><circle cx="685" cy="558.75" r="4.05"/><circle cx="684" cy="561.88" r="4.05"/><circle cx="687.5" cy="566.25" r="4.05"/><circle cx="689.38" cy="569" r="4.05"/><circle cx="691" cy="571.88" r="4.05"/><circle cx="672.5" cy="584.38" r="4.05"/><circle cx="666.25" cy="590" r="4.05"/><circle cx="657.5" cy="597.5" r="4.05"/><circle cx="653.12" cy="599.38" r="4.05"/><circle cx="647.5" cy="605" r="4.05"/><circle cx="662.5" cy="575.62" r="4.05"/><circle cx="666.25" cy="572.5" r="4.05"/><circle cx="668.75" cy="570" r="4.05"/><circle cx="672.5" cy="568.75" r="4.05"/><circle cx="675.62" cy="566.25" r="4.05"/><circle cx="678.75" cy="563.12" r="4.05"/><circle cx="678.75" cy="578.75" r="4.05"/></g>
<text transform="translate(771.5,560.2)" font-size="11.6" text-anchor="end" fill="#1a1a1a">r = 0.949</text>
<text transform="translate(771.5,573.95)" font-size="11.6" text-anchor="end" fill="#1a1a1a">p &lt; 0.0001</text>
<text transform="translate(657.25,623)" font-size="11" text-anchor="middle" fill="#1a1a1a">20</text>
<text transform="translate(681.5,623)" font-size="11" text-anchor="middle" fill="#1a1a1a">40</text>
<text transform="translate(705.75,623)" font-size="11" text-anchor="middle" fill="#1a1a1a">60</text>
<text transform="translate(730,623)" font-size="11" text-anchor="middle" fill="#1a1a1a">80</text>
<text transform="translate(754.25,623)" font-size="11" text-anchor="middle" fill="#1a1a1a">100</text>
<text transform="translate(778.5,623)" font-size="11" text-anchor="middle" fill="#1a1a1a">120</text>
<text transform="translate(636.2,589.95)" font-size="11" text-anchor="end" fill="#1a1a1a">20</text>
<text transform="translate(636.2,556.95)" font-size="11" text-anchor="end" fill="#1a1a1a">40</text>
<text transform="translate(636.2,524.2)" font-size="11" text-anchor="end" fill="#1a1a1a">60</text>
<text transform="translate(636.2,491.2)" font-size="11" text-anchor="end" fill="#1a1a1a">80</text>
<text transform="translate(636.2,458.7)" font-size="11" text-anchor="end" fill="#1a1a1a">100</text>
<text transform="translate(712.6,639.9)" font-size="11.6" text-anchor="middle" fill="#1a1a1a">real PPG (ms<tspan dy="-5.8" font-size="8.58">2</tspan><tspan dy="5.8">)</tspan></text>
<text transform="translate(614.9,531.55) rotate(-90)" font-size="11.6" text-anchor="middle" fill="#1a1a1a">simulated PPG (ms<tspan dy="-5.8" font-size="8.58">2</tspan><tspan dy="5.8">)</tspan></text>
<text transform="translate(712.6,449.7) scale(1,1)" font-size="11.7" font-weight="bold" text-anchor="middle" fill="#111">(l) SD2: <tspan font-style="italic">n</tspan> = 116</text>
</g>
</svg>
</body></html>
